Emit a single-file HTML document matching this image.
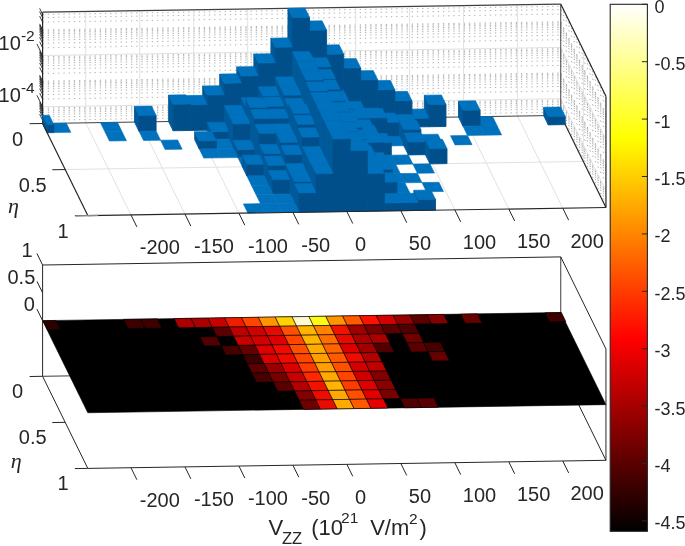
<!DOCTYPE html>
<html><head><meta charset="utf-8"><style>
html,body{margin:0;padding:0;background:#fff;}
body{width:685px;height:546px;position:relative;overflow:hidden;font-family:"Liberation Sans",sans-serif;}
</style></head><body>
<svg width="685" height="546" viewBox="0 0 685 546" style="position:absolute;left:0;top:0">
<rect width="685" height="546" fill="#ffffff"/>
<line x1="42.60" y1="120.21" x2="560.75" y2="112.11" stroke="#a8a8a8" stroke-width="0.9" stroke-dasharray="1.3 3.9"/>
<line x1="42.60" y1="117.01" x2="560.75" y2="108.91" stroke="#a8a8a8" stroke-width="0.9" stroke-dasharray="1.3 3.9"/>
<line x1="42.60" y1="114.52" x2="560.75" y2="106.42" stroke="#a8a8a8" stroke-width="0.9" stroke-dasharray="1.3 3.9"/>
<line x1="42.60" y1="112.49" x2="560.75" y2="104.39" stroke="#a8a8a8" stroke-width="0.9" stroke-dasharray="1.3 3.9"/>
<line x1="42.60" y1="110.78" x2="560.75" y2="102.68" stroke="#a8a8a8" stroke-width="0.9" stroke-dasharray="1.3 3.9"/>
<line x1="42.60" y1="109.29" x2="560.75" y2="101.19" stroke="#a8a8a8" stroke-width="0.9" stroke-dasharray="1.3 3.9"/>
<line x1="42.60" y1="107.98" x2="560.75" y2="99.88" stroke="#a8a8a8" stroke-width="0.9" stroke-dasharray="1.3 3.9"/>
<line x1="42.60" y1="99.08" x2="560.75" y2="90.98" stroke="#a8a8a8" stroke-width="0.9" stroke-dasharray="1.3 3.9"/>
<line x1="42.60" y1="94.56" x2="560.75" y2="86.46" stroke="#a8a8a8" stroke-width="0.9" stroke-dasharray="1.3 3.9"/>
<line x1="42.60" y1="91.36" x2="560.75" y2="83.26" stroke="#a8a8a8" stroke-width="0.9" stroke-dasharray="1.3 3.9"/>
<line x1="42.60" y1="88.87" x2="560.75" y2="80.77" stroke="#a8a8a8" stroke-width="0.9" stroke-dasharray="1.3 3.9"/>
<line x1="42.60" y1="86.84" x2="560.75" y2="78.74" stroke="#a8a8a8" stroke-width="0.9" stroke-dasharray="1.3 3.9"/>
<line x1="42.60" y1="85.13" x2="560.75" y2="77.03" stroke="#a8a8a8" stroke-width="0.9" stroke-dasharray="1.3 3.9"/>
<line x1="42.60" y1="83.64" x2="560.75" y2="75.54" stroke="#a8a8a8" stroke-width="0.9" stroke-dasharray="1.3 3.9"/>
<line x1="42.60" y1="82.33" x2="560.75" y2="74.23" stroke="#a8a8a8" stroke-width="0.9" stroke-dasharray="1.3 3.9"/>
<line x1="42.60" y1="81.15" x2="560.75" y2="73.05" stroke="#a8a8a8" stroke-width="0.9" stroke-dasharray="1.3 3.9"/>
<line x1="42.60" y1="73.43" x2="560.75" y2="65.33" stroke="#a8a8a8" stroke-width="0.9" stroke-dasharray="1.3 3.9"/>
<line x1="42.60" y1="68.91" x2="560.75" y2="60.81" stroke="#a8a8a8" stroke-width="0.9" stroke-dasharray="1.3 3.9"/>
<line x1="42.60" y1="65.71" x2="560.75" y2="57.61" stroke="#a8a8a8" stroke-width="0.9" stroke-dasharray="1.3 3.9"/>
<line x1="42.60" y1="63.22" x2="560.75" y2="55.12" stroke="#a8a8a8" stroke-width="0.9" stroke-dasharray="1.3 3.9"/>
<line x1="42.60" y1="61.19" x2="560.75" y2="53.09" stroke="#a8a8a8" stroke-width="0.9" stroke-dasharray="1.3 3.9"/>
<line x1="42.60" y1="59.48" x2="560.75" y2="51.38" stroke="#a8a8a8" stroke-width="0.9" stroke-dasharray="1.3 3.9"/>
<line x1="42.60" y1="57.99" x2="560.75" y2="49.89" stroke="#a8a8a8" stroke-width="0.9" stroke-dasharray="1.3 3.9"/>
<line x1="42.60" y1="56.68" x2="560.75" y2="48.58" stroke="#a8a8a8" stroke-width="0.9" stroke-dasharray="1.3 3.9"/>
<line x1="42.60" y1="47.78" x2="560.75" y2="39.68" stroke="#a8a8a8" stroke-width="0.9" stroke-dasharray="1.3 3.9"/>
<line x1="42.60" y1="43.26" x2="560.75" y2="35.16" stroke="#a8a8a8" stroke-width="0.9" stroke-dasharray="1.3 3.9"/>
<line x1="42.60" y1="40.06" x2="560.75" y2="31.96" stroke="#a8a8a8" stroke-width="0.9" stroke-dasharray="1.3 3.9"/>
<line x1="42.60" y1="37.57" x2="560.75" y2="29.47" stroke="#a8a8a8" stroke-width="0.9" stroke-dasharray="1.3 3.9"/>
<line x1="42.60" y1="35.54" x2="560.75" y2="27.44" stroke="#a8a8a8" stroke-width="0.9" stroke-dasharray="1.3 3.9"/>
<line x1="42.60" y1="33.83" x2="560.75" y2="25.73" stroke="#a8a8a8" stroke-width="0.9" stroke-dasharray="1.3 3.9"/>
<line x1="42.60" y1="32.34" x2="560.75" y2="24.24" stroke="#a8a8a8" stroke-width="0.9" stroke-dasharray="1.3 3.9"/>
<line x1="42.60" y1="31.03" x2="560.75" y2="22.93" stroke="#a8a8a8" stroke-width="0.9" stroke-dasharray="1.3 3.9"/>
<line x1="42.60" y1="29.85" x2="560.75" y2="21.75" stroke="#a8a8a8" stroke-width="0.9" stroke-dasharray="1.3 3.9"/>
<line x1="42.60" y1="22.13" x2="560.75" y2="14.03" stroke="#a8a8a8" stroke-width="0.9" stroke-dasharray="1.3 3.9"/>
<line x1="42.60" y1="17.61" x2="560.75" y2="9.51" stroke="#a8a8a8" stroke-width="0.9" stroke-dasharray="1.3 3.9"/>
<line x1="42.60" y1="14.41" x2="560.75" y2="6.31" stroke="#a8a8a8" stroke-width="0.9" stroke-dasharray="1.3 3.9"/>
<line x1="85.78" y1="122.83" x2="85.78" y2="11.53" stroke="#dedede" stroke-width="0.9"/>
<line x1="139.75" y1="121.98" x2="139.75" y2="10.68" stroke="#dedede" stroke-width="0.9"/>
<line x1="193.73" y1="121.14" x2="193.73" y2="9.84" stroke="#dedede" stroke-width="0.9"/>
<line x1="247.70" y1="120.29" x2="247.70" y2="8.99" stroke="#dedede" stroke-width="0.9"/>
<line x1="301.68" y1="119.45" x2="301.68" y2="8.15" stroke="#dedede" stroke-width="0.9"/>
<line x1="355.65" y1="118.61" x2="355.65" y2="7.31" stroke="#dedede" stroke-width="0.9"/>
<line x1="409.62" y1="117.76" x2="409.62" y2="6.46" stroke="#dedede" stroke-width="0.9"/>
<line x1="463.60" y1="116.92" x2="463.60" y2="5.62" stroke="#dedede" stroke-width="0.9"/>
<line x1="517.57" y1="116.08" x2="517.57" y2="4.78" stroke="#dedede" stroke-width="0.9"/>
<line x1="42.60" y1="106.80" x2="560.75" y2="98.70" stroke="#dedede" stroke-width="0.9"/>
<line x1="42.60" y1="55.50" x2="560.75" y2="47.40" stroke="#dedede" stroke-width="0.9"/>
<line x1="560.75" y1="112.11" x2="605.95" y2="204.21" stroke="#a8a8a8" stroke-width="1.0" stroke-dasharray="1.4 4.6"/>
<line x1="560.75" y1="108.91" x2="605.95" y2="201.01" stroke="#a8a8a8" stroke-width="1.0" stroke-dasharray="1.4 4.6"/>
<line x1="560.75" y1="106.42" x2="605.95" y2="198.52" stroke="#a8a8a8" stroke-width="1.0" stroke-dasharray="1.4 4.6"/>
<line x1="560.75" y1="104.39" x2="605.95" y2="196.49" stroke="#a8a8a8" stroke-width="1.0" stroke-dasharray="1.4 4.6"/>
<line x1="560.75" y1="102.68" x2="605.95" y2="194.78" stroke="#a8a8a8" stroke-width="1.0" stroke-dasharray="1.4 4.6"/>
<line x1="560.75" y1="101.19" x2="605.95" y2="193.29" stroke="#a8a8a8" stroke-width="1.0" stroke-dasharray="1.4 4.6"/>
<line x1="560.75" y1="99.88" x2="605.95" y2="191.98" stroke="#a8a8a8" stroke-width="1.0" stroke-dasharray="1.4 4.6"/>
<line x1="560.75" y1="90.98" x2="605.95" y2="183.08" stroke="#a8a8a8" stroke-width="1.0" stroke-dasharray="1.4 4.6"/>
<line x1="560.75" y1="86.46" x2="605.95" y2="178.56" stroke="#a8a8a8" stroke-width="1.0" stroke-dasharray="1.4 4.6"/>
<line x1="560.75" y1="83.26" x2="605.95" y2="175.36" stroke="#a8a8a8" stroke-width="1.0" stroke-dasharray="1.4 4.6"/>
<line x1="560.75" y1="80.77" x2="605.95" y2="172.87" stroke="#a8a8a8" stroke-width="1.0" stroke-dasharray="1.4 4.6"/>
<line x1="560.75" y1="78.74" x2="605.95" y2="170.84" stroke="#a8a8a8" stroke-width="1.0" stroke-dasharray="1.4 4.6"/>
<line x1="560.75" y1="77.03" x2="605.95" y2="169.13" stroke="#a8a8a8" stroke-width="1.0" stroke-dasharray="1.4 4.6"/>
<line x1="560.75" y1="75.54" x2="605.95" y2="167.64" stroke="#a8a8a8" stroke-width="1.0" stroke-dasharray="1.4 4.6"/>
<line x1="560.75" y1="74.23" x2="605.95" y2="166.33" stroke="#a8a8a8" stroke-width="1.0" stroke-dasharray="1.4 4.6"/>
<line x1="560.75" y1="73.05" x2="605.95" y2="165.15" stroke="#a8a8a8" stroke-width="1.0" stroke-dasharray="1.4 4.6"/>
<line x1="560.75" y1="65.33" x2="605.95" y2="157.43" stroke="#a8a8a8" stroke-width="1.0" stroke-dasharray="1.4 4.6"/>
<line x1="560.75" y1="60.81" x2="605.95" y2="152.91" stroke="#a8a8a8" stroke-width="1.0" stroke-dasharray="1.4 4.6"/>
<line x1="560.75" y1="57.61" x2="605.95" y2="149.71" stroke="#a8a8a8" stroke-width="1.0" stroke-dasharray="1.4 4.6"/>
<line x1="560.75" y1="55.12" x2="605.95" y2="147.22" stroke="#a8a8a8" stroke-width="1.0" stroke-dasharray="1.4 4.6"/>
<line x1="560.75" y1="53.09" x2="605.95" y2="145.19" stroke="#a8a8a8" stroke-width="1.0" stroke-dasharray="1.4 4.6"/>
<line x1="560.75" y1="51.38" x2="605.95" y2="143.48" stroke="#a8a8a8" stroke-width="1.0" stroke-dasharray="1.4 4.6"/>
<line x1="560.75" y1="49.89" x2="605.95" y2="141.99" stroke="#a8a8a8" stroke-width="1.0" stroke-dasharray="1.4 4.6"/>
<line x1="560.75" y1="48.58" x2="605.95" y2="140.68" stroke="#a8a8a8" stroke-width="1.0" stroke-dasharray="1.4 4.6"/>
<line x1="560.75" y1="39.68" x2="605.95" y2="131.78" stroke="#a8a8a8" stroke-width="1.0" stroke-dasharray="1.4 4.6"/>
<line x1="560.75" y1="35.16" x2="605.95" y2="127.26" stroke="#a8a8a8" stroke-width="1.0" stroke-dasharray="1.4 4.6"/>
<line x1="560.75" y1="31.96" x2="605.95" y2="124.06" stroke="#a8a8a8" stroke-width="1.0" stroke-dasharray="1.4 4.6"/>
<line x1="560.75" y1="29.47" x2="605.95" y2="121.57" stroke="#a8a8a8" stroke-width="1.0" stroke-dasharray="1.4 4.6"/>
<line x1="560.75" y1="27.44" x2="605.95" y2="119.54" stroke="#a8a8a8" stroke-width="1.0" stroke-dasharray="1.4 4.6"/>
<line x1="560.75" y1="25.73" x2="605.95" y2="117.83" stroke="#a8a8a8" stroke-width="1.0" stroke-dasharray="1.4 4.6"/>
<line x1="560.75" y1="24.24" x2="605.95" y2="116.34" stroke="#a8a8a8" stroke-width="1.0" stroke-dasharray="1.4 4.6"/>
<line x1="560.75" y1="22.93" x2="605.95" y2="115.03" stroke="#a8a8a8" stroke-width="1.0" stroke-dasharray="1.4 4.6"/>
<line x1="560.75" y1="21.75" x2="605.95" y2="113.85" stroke="#a8a8a8" stroke-width="1.0" stroke-dasharray="1.4 4.6"/>
<line x1="560.75" y1="14.03" x2="605.95" y2="106.13" stroke="#a8a8a8" stroke-width="1.0" stroke-dasharray="1.4 4.6"/>
<line x1="560.75" y1="9.51" x2="605.95" y2="101.61" stroke="#a8a8a8" stroke-width="1.0" stroke-dasharray="1.4 4.6"/>
<line x1="560.75" y1="6.31" x2="605.95" y2="98.41" stroke="#a8a8a8" stroke-width="1.0" stroke-dasharray="1.4 4.6"/>
<line x1="583.35" y1="161.45" x2="583.35" y2="50.15" stroke="#dedede" stroke-width="0.9"/>
<line x1="560.75" y1="98.70" x2="605.95" y2="190.80" stroke="#dedede" stroke-width="0.9"/>
<line x1="560.75" y1="47.40" x2="605.95" y2="139.50" stroke="#dedede" stroke-width="0.9"/>
<line x1="85.78" y1="122.83" x2="130.98" y2="214.93" stroke="#dedede" stroke-width="0.9"/>
<line x1="139.75" y1="121.98" x2="184.95" y2="214.08" stroke="#dedede" stroke-width="0.9"/>
<line x1="193.73" y1="121.14" x2="238.93" y2="213.24" stroke="#dedede" stroke-width="0.9"/>
<line x1="247.70" y1="120.29" x2="292.90" y2="212.39" stroke="#dedede" stroke-width="0.9"/>
<line x1="301.68" y1="119.45" x2="346.88" y2="211.55" stroke="#dedede" stroke-width="0.9"/>
<line x1="355.65" y1="118.61" x2="400.85" y2="210.71" stroke="#dedede" stroke-width="0.9"/>
<line x1="409.62" y1="117.76" x2="454.82" y2="209.86" stroke="#dedede" stroke-width="0.9"/>
<line x1="463.60" y1="116.92" x2="508.80" y2="209.02" stroke="#dedede" stroke-width="0.9"/>
<line x1="517.57" y1="116.08" x2="562.77" y2="208.18" stroke="#dedede" stroke-width="0.9"/>
<line x1="65.20" y1="169.55" x2="583.35" y2="161.45" stroke="#dedede" stroke-width="0.9"/>
<line x1="42.60" y1="12.20" x2="560.75" y2="4.10" stroke="#404040" stroke-width="1.2"/>
<line x1="560.75" y1="4.10" x2="605.95" y2="96.20" stroke="#262626" stroke-width="1.2"/>
<line x1="560.75" y1="115.40" x2="560.75" y2="4.10" stroke="#404040" stroke-width="1.0"/>
<line x1="42.60" y1="123.50" x2="42.60" y2="12.20" stroke="#262626" stroke-width="1.2"/>
<line x1="42.60" y1="123.50" x2="560.75" y2="115.40" stroke="#404040" stroke-width="1.0"/>
<line x1="560.75" y1="115.40" x2="605.95" y2="207.50" stroke="#262626" stroke-width="1.2"/>
<line x1="42.60" y1="120.21" x2="39.66" y2="114.23" stroke="#262626" stroke-width="0.9"/>
<line x1="42.60" y1="117.01" x2="39.66" y2="111.02" stroke="#262626" stroke-width="0.9"/>
<line x1="42.60" y1="114.52" x2="39.66" y2="108.54" stroke="#262626" stroke-width="0.9"/>
<line x1="42.60" y1="112.49" x2="39.66" y2="106.51" stroke="#262626" stroke-width="0.9"/>
<line x1="42.60" y1="110.78" x2="39.66" y2="104.79" stroke="#262626" stroke-width="0.9"/>
<line x1="42.60" y1="109.29" x2="39.66" y2="103.30" stroke="#262626" stroke-width="0.9"/>
<line x1="42.60" y1="107.98" x2="39.66" y2="101.99" stroke="#262626" stroke-width="0.9"/>
<line x1="42.60" y1="106.80" x2="36.95" y2="95.29" stroke="#262626" stroke-width="0.9"/>
<line x1="42.60" y1="99.08" x2="39.66" y2="93.09" stroke="#262626" stroke-width="0.9"/>
<line x1="42.60" y1="94.56" x2="39.66" y2="88.58" stroke="#262626" stroke-width="0.9"/>
<line x1="42.60" y1="91.36" x2="39.66" y2="85.37" stroke="#262626" stroke-width="0.9"/>
<line x1="42.60" y1="88.87" x2="39.66" y2="82.89" stroke="#262626" stroke-width="0.9"/>
<line x1="42.60" y1="86.84" x2="39.66" y2="80.86" stroke="#262626" stroke-width="0.9"/>
<line x1="42.60" y1="85.13" x2="39.66" y2="79.14" stroke="#262626" stroke-width="0.9"/>
<line x1="42.60" y1="83.64" x2="39.66" y2="77.65" stroke="#262626" stroke-width="0.9"/>
<line x1="42.60" y1="82.33" x2="39.66" y2="76.34" stroke="#262626" stroke-width="0.9"/>
<line x1="42.60" y1="81.15" x2="39.66" y2="75.17" stroke="#262626" stroke-width="0.9"/>
<line x1="42.60" y1="73.43" x2="39.66" y2="67.44" stroke="#262626" stroke-width="0.9"/>
<line x1="42.60" y1="68.91" x2="39.66" y2="62.93" stroke="#262626" stroke-width="0.9"/>
<line x1="42.60" y1="65.71" x2="39.66" y2="59.72" stroke="#262626" stroke-width="0.9"/>
<line x1="42.60" y1="63.22" x2="39.66" y2="57.24" stroke="#262626" stroke-width="0.9"/>
<line x1="42.60" y1="61.19" x2="39.66" y2="55.21" stroke="#262626" stroke-width="0.9"/>
<line x1="42.60" y1="59.48" x2="39.66" y2="53.49" stroke="#262626" stroke-width="0.9"/>
<line x1="42.60" y1="57.99" x2="39.66" y2="52.00" stroke="#262626" stroke-width="0.9"/>
<line x1="42.60" y1="56.68" x2="39.66" y2="50.69" stroke="#262626" stroke-width="0.9"/>
<line x1="42.60" y1="55.50" x2="36.95" y2="43.99" stroke="#262626" stroke-width="0.9"/>
<line x1="42.60" y1="47.78" x2="39.66" y2="41.79" stroke="#262626" stroke-width="0.9"/>
<line x1="42.60" y1="43.26" x2="39.66" y2="37.28" stroke="#262626" stroke-width="0.9"/>
<line x1="42.60" y1="40.06" x2="39.66" y2="34.07" stroke="#262626" stroke-width="0.9"/>
<line x1="42.60" y1="37.57" x2="39.66" y2="31.59" stroke="#262626" stroke-width="0.9"/>
<line x1="42.60" y1="35.54" x2="39.66" y2="29.56" stroke="#262626" stroke-width="0.9"/>
<line x1="42.60" y1="33.83" x2="39.66" y2="27.84" stroke="#262626" stroke-width="0.9"/>
<line x1="42.60" y1="32.34" x2="39.66" y2="26.35" stroke="#262626" stroke-width="0.9"/>
<line x1="42.60" y1="31.03" x2="39.66" y2="25.04" stroke="#262626" stroke-width="0.9"/>
<line x1="42.60" y1="29.85" x2="39.66" y2="23.87" stroke="#262626" stroke-width="0.9"/>
<line x1="42.60" y1="22.13" x2="39.66" y2="16.14" stroke="#262626" stroke-width="0.9"/>
<line x1="42.60" y1="17.61" x2="39.66" y2="11.63" stroke="#262626" stroke-width="0.9"/>
<line x1="42.60" y1="14.41" x2="39.66" y2="8.42" stroke="#262626" stroke-width="0.9"/>
<polygon points="543.75,115.67 548.27,124.88 548.27,116.48 543.75,107.27" fill="#005a9a" stroke="#005a9a" stroke-width="0.9" stroke-linejoin="round"/>
<polygon points="548.27,124.88 565.22,124.61 565.22,116.21 548.27,116.48" fill="#004f8b" stroke="#004f8b" stroke-width="0.9" stroke-linejoin="round"/>
<polygon points="543.75,107.27 560.70,107.00 565.22,116.21 548.27,116.48" fill="#0071bc" stroke="#0071bc" stroke-width="0.6" stroke-linejoin="round"/>
<polygon points="475.54,116.73 492.59,116.47 497.11,125.68 480.06,125.94" fill="#0071bc" stroke="#0071bc" stroke-width="0.6" stroke-linejoin="round"/>
<polygon points="458.49,117.00 463.01,126.21 463.01,110.21 458.49,101.00" fill="#005a9a" stroke="#005a9a" stroke-width="0.9" stroke-linejoin="round"/>
<polygon points="463.01,126.21 480.06,125.94 480.06,109.94 463.01,110.21" fill="#004f8b" stroke="#004f8b" stroke-width="0.9" stroke-linejoin="round"/>
<polygon points="458.49,101.00 475.54,100.73 480.06,109.94 463.01,110.21" fill="#0071bc" stroke="#0071bc" stroke-width="0.6" stroke-linejoin="round"/>
<polygon points="424.39,117.53 428.91,126.74 428.91,104.44 424.39,95.23" fill="#005a9a" stroke="#005a9a" stroke-width="0.9" stroke-linejoin="round"/>
<polygon points="428.91,126.74 445.96,126.48 445.96,104.18 428.91,104.44" fill="#004f8b" stroke="#004f8b" stroke-width="0.9" stroke-linejoin="round"/>
<polygon points="424.39,95.23 441.44,94.97 445.96,104.18 428.91,104.44" fill="#0071bc" stroke="#0071bc" stroke-width="0.6" stroke-linejoin="round"/>
<polygon points="411.85,127.01 428.91,126.74 428.91,118.14 411.85,118.41" fill="#004f8b" stroke="#004f8b" stroke-width="0.9" stroke-linejoin="round"/>
<polygon points="407.33,109.20 424.39,108.93 428.91,118.14 411.85,118.41" fill="#0071bc" stroke="#0071bc" stroke-width="0.6" stroke-linejoin="round"/>
<polygon points="394.80,127.27 411.85,127.01 411.85,100.51 394.80,100.77" fill="#004f8b" stroke="#004f8b" stroke-width="0.9" stroke-linejoin="round"/>
<polygon points="390.28,91.56 407.33,91.30 411.85,100.51 394.80,100.77" fill="#0071bc" stroke="#0071bc" stroke-width="0.6" stroke-linejoin="round"/>
<polygon points="377.75,127.54 394.80,127.27 394.80,89.57 377.75,89.84" fill="#004f8b" stroke="#004f8b" stroke-width="0.9" stroke-linejoin="round"/>
<polygon points="373.23,80.63 390.28,80.36 394.80,89.57 377.75,89.84" fill="#0071bc" stroke="#0071bc" stroke-width="0.6" stroke-linejoin="round"/>
<polygon points="360.70,127.81 377.75,127.54 377.75,79.74 360.70,80.01" fill="#004f8b" stroke="#004f8b" stroke-width="0.9" stroke-linejoin="round"/>
<polygon points="356.18,70.80 373.23,70.53 377.75,79.74 360.70,80.01" fill="#0071bc" stroke="#0071bc" stroke-width="0.6" stroke-linejoin="round"/>
<polygon points="343.65,128.07 360.70,127.81 360.70,67.81 343.65,68.07" fill="#004f8b" stroke="#004f8b" stroke-width="0.9" stroke-linejoin="round"/>
<polygon points="339.13,58.86 356.18,58.60 360.70,67.81 343.65,68.07" fill="#0071bc" stroke="#0071bc" stroke-width="0.6" stroke-linejoin="round"/>
<polygon points="326.60,128.34 343.65,128.07 343.65,53.97 326.60,54.24" fill="#004f8b" stroke="#004f8b" stroke-width="0.9" stroke-linejoin="round"/>
<polygon points="322.08,45.03 339.13,44.76 343.65,53.97 326.60,54.24" fill="#0071bc" stroke="#0071bc" stroke-width="0.6" stroke-linejoin="round"/>
<polygon points="309.54,128.61 326.60,128.34 326.60,30.04 309.54,30.31" fill="#004f8b" stroke="#004f8b" stroke-width="0.9" stroke-linejoin="round"/>
<polygon points="305.02,21.10 322.08,20.83 326.60,30.04 309.54,30.31" fill="#0071bc" stroke="#0071bc" stroke-width="0.6" stroke-linejoin="round"/>
<polygon points="287.97,119.66 292.49,128.87 292.49,17.57 287.97,8.36" fill="#005a9a" stroke="#005a9a" stroke-width="0.9" stroke-linejoin="round"/>
<polygon points="292.49,128.87 309.54,128.61 309.54,17.31 292.49,17.57" fill="#004f8b" stroke="#004f8b" stroke-width="0.9" stroke-linejoin="round"/>
<polygon points="287.97,8.36 305.02,8.10 309.54,17.31 292.49,17.57" fill="#0071bc" stroke="#0071bc" stroke-width="0.6" stroke-linejoin="round"/>
<polygon points="270.92,119.93 275.44,129.14 275.44,47.34 270.92,38.13" fill="#005a9a" stroke="#005a9a" stroke-width="0.9" stroke-linejoin="round"/>
<polygon points="275.44,129.14 292.49,128.87 292.49,47.07 275.44,47.34" fill="#004f8b" stroke="#004f8b" stroke-width="0.9" stroke-linejoin="round"/>
<polygon points="270.92,38.13 287.97,37.86 292.49,47.07 275.44,47.34" fill="#0071bc" stroke="#0071bc" stroke-width="0.6" stroke-linejoin="round"/>
<polygon points="253.87,120.20 258.39,129.41 258.39,63.11 253.87,53.90" fill="#005a9a" stroke="#005a9a" stroke-width="0.9" stroke-linejoin="round"/>
<polygon points="258.39,129.41 275.44,129.14 275.44,62.84 258.39,63.11" fill="#004f8b" stroke="#004f8b" stroke-width="0.9" stroke-linejoin="round"/>
<polygon points="253.87,53.90 270.92,53.63 275.44,62.84 258.39,63.11" fill="#0071bc" stroke="#0071bc" stroke-width="0.6" stroke-linejoin="round"/>
<polygon points="236.82,120.46 241.34,129.67 241.34,76.07 236.82,66.86" fill="#005a9a" stroke="#005a9a" stroke-width="0.9" stroke-linejoin="round"/>
<polygon points="241.34,129.67 258.39,129.41 258.39,75.81 241.34,76.07" fill="#004f8b" stroke="#004f8b" stroke-width="0.9" stroke-linejoin="round"/>
<polygon points="236.82,66.86 253.87,66.60 258.39,75.81 241.34,76.07" fill="#0071bc" stroke="#0071bc" stroke-width="0.6" stroke-linejoin="round"/>
<polygon points="219.76,120.73 224.28,129.94 224.28,83.24 219.76,74.03" fill="#005a9a" stroke="#005a9a" stroke-width="0.9" stroke-linejoin="round"/>
<polygon points="224.28,129.94 241.34,129.67 241.34,82.97 224.28,83.24" fill="#004f8b" stroke="#004f8b" stroke-width="0.9" stroke-linejoin="round"/>
<polygon points="219.76,74.03 236.82,73.76 241.34,82.97 224.28,83.24" fill="#0071bc" stroke="#0071bc" stroke-width="0.6" stroke-linejoin="round"/>
<polygon points="202.71,121.00 207.23,130.21 207.23,95.11 202.71,85.90" fill="#005a9a" stroke="#005a9a" stroke-width="0.9" stroke-linejoin="round"/>
<polygon points="207.23,130.21 224.28,129.94 224.28,94.84 207.23,95.11" fill="#004f8b" stroke="#004f8b" stroke-width="0.9" stroke-linejoin="round"/>
<polygon points="202.71,85.90 219.76,85.63 224.28,94.84 207.23,95.11" fill="#0071bc" stroke="#0071bc" stroke-width="0.6" stroke-linejoin="round"/>
<polygon points="190.18,130.47 207.23,130.21 207.23,104.51 190.18,104.77" fill="#004f8b" stroke="#004f8b" stroke-width="0.9" stroke-linejoin="round"/>
<polygon points="185.66,95.56 202.71,95.30 207.23,104.51 190.18,104.77" fill="#0071bc" stroke="#0071bc" stroke-width="0.6" stroke-linejoin="round"/>
<polygon points="168.61,121.53 173.13,130.74 173.13,104.24 168.61,95.03" fill="#005a9a" stroke="#005a9a" stroke-width="0.9" stroke-linejoin="round"/>
<polygon points="173.13,130.74 190.18,130.47 190.18,103.97 173.13,104.24" fill="#004f8b" stroke="#004f8b" stroke-width="0.9" stroke-linejoin="round"/>
<polygon points="168.61,95.03 185.66,94.76 190.18,103.97 173.13,104.24" fill="#0071bc" stroke="#0071bc" stroke-width="0.6" stroke-linejoin="round"/>
<polygon points="134.51,122.06 139.03,131.27 139.03,115.57 134.51,106.36" fill="#005a9a" stroke="#005a9a" stroke-width="0.9" stroke-linejoin="round"/>
<polygon points="139.03,131.27 156.08,131.01 156.08,115.31 139.03,115.57" fill="#004f8b" stroke="#004f8b" stroke-width="0.9" stroke-linejoin="round"/>
<polygon points="134.51,106.36 151.56,106.10 156.08,115.31 139.03,115.57" fill="#0071bc" stroke="#0071bc" stroke-width="0.6" stroke-linejoin="round"/>
<polygon points="100.40,122.60 117.45,122.33 121.97,131.54 104.92,131.81" fill="#0071bc" stroke="#0071bc" stroke-width="0.6" stroke-linejoin="round"/>
<polygon points="49.25,123.40 66.30,123.13 70.82,132.34 53.77,132.61" fill="#0071bc" stroke="#0071bc" stroke-width="0.6" stroke-linejoin="round"/>
<polygon points="42.60,123.50 47.12,132.71 47.12,124.51 42.60,115.30" fill="#005a9a" stroke="#005a9a" stroke-width="0.9" stroke-linejoin="round"/>
<polygon points="47.12,132.71 53.77,132.61 53.77,124.41 47.12,124.51" fill="#004f8b" stroke="#004f8b" stroke-width="0.9" stroke-linejoin="round"/>
<polygon points="42.60,115.30 49.25,115.20 53.77,124.41 47.12,124.51" fill="#0071bc" stroke="#0071bc" stroke-width="0.6" stroke-linejoin="round"/>
<polygon points="480.06,125.94 497.11,125.68 501.63,134.89 484.58,135.15" fill="#0071bc" stroke="#0071bc" stroke-width="0.6" stroke-linejoin="round"/>
<polygon points="463.01,126.21 480.06,125.94 484.58,135.15 467.53,135.42" fill="#0071bc" stroke="#0071bc" stroke-width="0.6" stroke-linejoin="round"/>
<polygon points="399.32,136.48 416.37,136.22 416.37,123.64 399.32,123.91" fill="#004f8b" stroke="#004f8b" stroke-width="0.9" stroke-linejoin="round"/>
<polygon points="394.80,114.70 411.85,114.43 416.37,123.64 399.32,123.91" fill="#0071bc" stroke="#0071bc" stroke-width="0.6" stroke-linejoin="round"/>
<polygon points="382.27,136.75 399.32,136.48 399.32,122.17 382.27,122.44" fill="#004f8b" stroke="#004f8b" stroke-width="0.9" stroke-linejoin="round"/>
<polygon points="377.75,113.23 394.80,112.96 399.32,122.17 382.27,122.44" fill="#0071bc" stroke="#0071bc" stroke-width="0.6" stroke-linejoin="round"/>
<polygon points="365.22,137.02 382.27,136.75 382.27,117.25 365.22,117.51" fill="#004f8b" stroke="#004f8b" stroke-width="0.9" stroke-linejoin="round"/>
<polygon points="360.70,108.30 377.75,108.04 382.27,117.25 365.22,117.51" fill="#0071bc" stroke="#0071bc" stroke-width="0.6" stroke-linejoin="round"/>
<polygon points="348.17,137.28 365.22,137.02 365.22,110.59 348.17,110.86" fill="#004f8b" stroke="#004f8b" stroke-width="0.9" stroke-linejoin="round"/>
<polygon points="343.65,101.65 360.70,101.38 365.22,110.59 348.17,110.86" fill="#0071bc" stroke="#0071bc" stroke-width="0.6" stroke-linejoin="round"/>
<polygon points="331.12,137.55 348.17,137.28 348.17,99.61 331.12,99.87" fill="#004f8b" stroke="#004f8b" stroke-width="0.9" stroke-linejoin="round"/>
<polygon points="326.60,90.66 343.65,90.40 348.17,99.61 331.12,99.87" fill="#0071bc" stroke="#0071bc" stroke-width="0.6" stroke-linejoin="round"/>
<polygon points="314.06,137.82 331.12,137.55 331.12,66.85 314.06,67.12" fill="#004f8b" stroke="#004f8b" stroke-width="0.9" stroke-linejoin="round"/>
<polygon points="309.54,57.91 326.60,57.64 331.12,66.85 314.06,67.12" fill="#0071bc" stroke="#0071bc" stroke-width="0.6" stroke-linejoin="round"/>
<polygon points="292.49,128.87 297.01,138.08 297.01,61.08 292.49,51.87" fill="#005a9a" stroke="#005a9a" stroke-width="0.9" stroke-linejoin="round"/>
<polygon points="297.01,138.08 314.06,137.82 314.06,60.82 297.01,61.08" fill="#004f8b" stroke="#004f8b" stroke-width="0.9" stroke-linejoin="round"/>
<polygon points="292.49,51.87 309.54,51.61 314.06,60.82 297.01,61.08" fill="#0071bc" stroke="#0071bc" stroke-width="0.6" stroke-linejoin="round"/>
<polygon points="275.44,129.14 279.96,138.35 279.96,86.15 275.44,76.94" fill="#005a9a" stroke="#005a9a" stroke-width="0.9" stroke-linejoin="round"/>
<polygon points="279.96,138.35 297.01,138.08 297.01,85.88 279.96,86.15" fill="#004f8b" stroke="#004f8b" stroke-width="0.9" stroke-linejoin="round"/>
<polygon points="275.44,76.94 292.49,76.67 297.01,85.88 279.96,86.15" fill="#0071bc" stroke="#0071bc" stroke-width="0.6" stroke-linejoin="round"/>
<polygon points="258.39,129.41 262.91,138.62 262.91,96.02 258.39,86.81" fill="#005a9a" stroke="#005a9a" stroke-width="0.9" stroke-linejoin="round"/>
<polygon points="262.91,138.62 279.96,138.35 279.96,95.75 262.91,96.02" fill="#004f8b" stroke="#004f8b" stroke-width="0.9" stroke-linejoin="round"/>
<polygon points="258.39,86.81 275.44,86.54 279.96,95.75 262.91,96.02" fill="#0071bc" stroke="#0071bc" stroke-width="0.6" stroke-linejoin="round"/>
<polygon points="241.34,129.67 245.86,138.88 245.86,106.98 241.34,97.77" fill="#005a9a" stroke="#005a9a" stroke-width="0.9" stroke-linejoin="round"/>
<polygon points="245.86,138.88 262.91,138.62 262.91,106.72 245.86,106.98" fill="#004f8b" stroke="#004f8b" stroke-width="0.9" stroke-linejoin="round"/>
<polygon points="241.34,97.77 258.39,97.51 262.91,106.72 245.86,106.98" fill="#0071bc" stroke="#0071bc" stroke-width="0.6" stroke-linejoin="round"/>
<polygon points="224.28,129.94 228.80,139.15 228.80,114.85 224.28,105.64" fill="#005a9a" stroke="#005a9a" stroke-width="0.9" stroke-linejoin="round"/>
<polygon points="228.80,139.15 245.86,138.88 245.86,114.58 228.80,114.85" fill="#004f8b" stroke="#004f8b" stroke-width="0.9" stroke-linejoin="round"/>
<polygon points="224.28,105.64 241.34,105.37 245.86,114.58 228.80,114.85" fill="#0071bc" stroke="#0071bc" stroke-width="0.6" stroke-linejoin="round"/>
<polygon points="207.23,130.21 211.75,139.42 211.75,131.72 207.23,122.51" fill="#005a9a" stroke="#005a9a" stroke-width="0.9" stroke-linejoin="round"/>
<polygon points="211.75,139.42 228.80,139.15 228.80,131.45 211.75,131.72" fill="#004f8b" stroke="#004f8b" stroke-width="0.9" stroke-linejoin="round"/>
<polygon points="207.23,122.51 224.28,122.24 228.80,131.45 211.75,131.72" fill="#0071bc" stroke="#0071bc" stroke-width="0.6" stroke-linejoin="round"/>
<polygon points="139.03,131.27 156.08,131.01 160.60,140.22 143.55,140.48" fill="#0071bc" stroke="#0071bc" stroke-width="0.6" stroke-linejoin="round"/>
<polygon points="104.92,131.81 121.97,131.54 126.49,140.75 109.44,141.02" fill="#0071bc" stroke="#0071bc" stroke-width="0.6" stroke-linejoin="round"/>
<polygon points="450.48,135.69 467.53,135.42 472.05,144.63 455.00,144.90" fill="#0071bc" stroke="#0071bc" stroke-width="0.6" stroke-linejoin="round"/>
<polygon points="399.32,136.48 403.84,145.69 403.84,129.69 399.32,120.48" fill="#005a9a" stroke="#005a9a" stroke-width="0.9" stroke-linejoin="round"/>
<polygon points="403.84,145.69 420.89,145.43 420.89,129.43 403.84,129.69" fill="#004f8b" stroke="#004f8b" stroke-width="0.9" stroke-linejoin="round"/>
<polygon points="399.32,120.48 416.37,120.22 420.89,129.43 403.84,129.69" fill="#0071bc" stroke="#0071bc" stroke-width="0.6" stroke-linejoin="round"/>
<polygon points="382.27,136.75 399.32,136.48 403.84,145.69 386.79,145.96" fill="#0071bc" stroke="#0071bc" stroke-width="0.6" stroke-linejoin="round"/>
<polygon points="369.74,146.23 386.79,145.96 386.79,117.80 369.74,118.07" fill="#004f8b" stroke="#004f8b" stroke-width="0.9" stroke-linejoin="round"/>
<polygon points="365.22,108.86 382.27,108.59 386.79,117.80 369.74,118.07" fill="#0071bc" stroke="#0071bc" stroke-width="0.6" stroke-linejoin="round"/>
<polygon points="352.69,146.49 369.74,146.23 369.74,118.07 352.69,118.34" fill="#004f8b" stroke="#004f8b" stroke-width="0.9" stroke-linejoin="round"/>
<polygon points="348.17,109.13 365.22,108.86 369.74,118.07 352.69,118.34" fill="#0071bc" stroke="#0071bc" stroke-width="0.6" stroke-linejoin="round"/>
<polygon points="335.64,146.76 352.69,146.49 352.69,108.82 335.64,109.08" fill="#004f8b" stroke="#004f8b" stroke-width="0.9" stroke-linejoin="round"/>
<polygon points="331.12,99.87 348.17,99.61 352.69,108.82 335.64,109.08" fill="#0071bc" stroke="#0071bc" stroke-width="0.6" stroke-linejoin="round"/>
<polygon points="318.58,147.03 335.64,146.76 335.64,78.76 318.58,79.03" fill="#004f8b" stroke="#004f8b" stroke-width="0.9" stroke-linejoin="round"/>
<polygon points="314.06,69.82 331.12,69.55 335.64,78.76 318.58,79.03" fill="#0071bc" stroke="#0071bc" stroke-width="0.6" stroke-linejoin="round"/>
<polygon points="297.01,138.08 301.53,147.29 301.53,70.69 297.01,61.48" fill="#005a9a" stroke="#005a9a" stroke-width="0.9" stroke-linejoin="round"/>
<polygon points="301.53,147.29 318.58,147.03 318.58,70.43 301.53,70.69" fill="#004f8b" stroke="#004f8b" stroke-width="0.9" stroke-linejoin="round"/>
<polygon points="297.01,61.48 314.06,61.22 318.58,70.43 301.53,70.69" fill="#0071bc" stroke="#0071bc" stroke-width="0.6" stroke-linejoin="round"/>
<polygon points="279.96,138.35 284.48,147.56 284.48,95.36 279.96,86.15" fill="#005a9a" stroke="#005a9a" stroke-width="0.9" stroke-linejoin="round"/>
<polygon points="284.48,147.56 301.53,147.29 301.53,95.09 284.48,95.36" fill="#004f8b" stroke="#004f8b" stroke-width="0.9" stroke-linejoin="round"/>
<polygon points="279.96,86.15 297.01,85.88 301.53,95.09 284.48,95.36" fill="#0071bc" stroke="#0071bc" stroke-width="0.6" stroke-linejoin="round"/>
<polygon points="262.91,138.62 267.43,147.83 267.43,106.53 262.91,97.32" fill="#005a9a" stroke="#005a9a" stroke-width="0.9" stroke-linejoin="round"/>
<polygon points="267.43,147.83 284.48,147.56 284.48,106.26 267.43,106.53" fill="#004f8b" stroke="#004f8b" stroke-width="0.9" stroke-linejoin="round"/>
<polygon points="262.91,97.32 279.96,97.05 284.48,106.26 267.43,106.53" fill="#0071bc" stroke="#0071bc" stroke-width="0.6" stroke-linejoin="round"/>
<polygon points="245.86,138.88 250.38,148.09 250.38,107.69 245.86,98.48" fill="#005a9a" stroke="#005a9a" stroke-width="0.9" stroke-linejoin="round"/>
<polygon points="250.38,148.09 267.43,147.83 267.43,107.43 250.38,107.69" fill="#004f8b" stroke="#004f8b" stroke-width="0.9" stroke-linejoin="round"/>
<polygon points="245.86,98.48 262.91,98.22 267.43,107.43 250.38,107.69" fill="#0071bc" stroke="#0071bc" stroke-width="0.6" stroke-linejoin="round"/>
<polygon points="228.80,139.15 233.32,148.36 233.32,124.06 228.80,114.85" fill="#005a9a" stroke="#005a9a" stroke-width="0.9" stroke-linejoin="round"/>
<polygon points="233.32,148.36 250.38,148.09 250.38,123.79 233.32,124.06" fill="#004f8b" stroke="#004f8b" stroke-width="0.9" stroke-linejoin="round"/>
<polygon points="228.80,114.85 245.86,114.58 250.38,123.79 233.32,124.06" fill="#0071bc" stroke="#0071bc" stroke-width="0.6" stroke-linejoin="round"/>
<polygon points="211.75,139.42 228.80,139.15 233.32,148.36 216.27,148.63" fill="#0071bc" stroke="#0071bc" stroke-width="0.6" stroke-linejoin="round"/>
<polygon points="194.70,139.68 199.22,148.89 199.22,140.89 194.70,131.68" fill="#005a9a" stroke="#005a9a" stroke-width="0.9" stroke-linejoin="round"/>
<polygon points="199.22,148.89 216.27,148.63 216.27,140.63 199.22,140.89" fill="#004f8b" stroke="#004f8b" stroke-width="0.9" stroke-linejoin="round"/>
<polygon points="194.70,131.68 211.75,131.42 216.27,140.63 199.22,140.89" fill="#0071bc" stroke="#0071bc" stroke-width="0.6" stroke-linejoin="round"/>
<polygon points="160.60,140.22 177.65,139.95 182.17,149.16 165.12,149.43" fill="#0071bc" stroke="#0071bc" stroke-width="0.6" stroke-linejoin="round"/>
<polygon points="425.41,154.64 442.47,154.37 442.47,143.37 425.41,143.64" fill="#004f8b" stroke="#004f8b" stroke-width="0.9" stroke-linejoin="round"/>
<polygon points="420.89,134.43 437.95,134.16 442.47,143.37 425.41,143.64" fill="#0071bc" stroke="#0071bc" stroke-width="0.6" stroke-linejoin="round"/>
<polygon points="403.84,145.69 408.36,154.90 408.36,142.10 403.84,132.89" fill="#005a9a" stroke="#005a9a" stroke-width="0.9" stroke-linejoin="round"/>
<polygon points="408.36,154.90 425.41,154.64 425.41,141.84 408.36,142.10" fill="#004f8b" stroke="#004f8b" stroke-width="0.9" stroke-linejoin="round"/>
<polygon points="403.84,132.89 420.89,132.63 425.41,141.84 408.36,142.10" fill="#0071bc" stroke="#0071bc" stroke-width="0.6" stroke-linejoin="round"/>
<polygon points="374.26,155.44 391.31,155.17 391.31,142.59 374.26,142.86" fill="#004f8b" stroke="#004f8b" stroke-width="0.9" stroke-linejoin="round"/>
<polygon points="369.74,133.65 386.79,133.38 391.31,142.59 374.26,142.86" fill="#0071bc" stroke="#0071bc" stroke-width="0.6" stroke-linejoin="round"/>
<polygon points="357.21,155.70 374.26,155.44 374.26,129.01 357.21,129.28" fill="#004f8b" stroke="#004f8b" stroke-width="0.9" stroke-linejoin="round"/>
<polygon points="352.69,120.07 369.74,119.80 374.26,129.01 357.21,129.28" fill="#0071bc" stroke="#0071bc" stroke-width="0.6" stroke-linejoin="round"/>
<polygon points="340.16,155.97 357.21,155.70 357.21,118.89 340.16,119.16" fill="#004f8b" stroke="#004f8b" stroke-width="0.9" stroke-linejoin="round"/>
<polygon points="335.64,109.95 352.69,109.68 357.21,118.89 340.16,119.16" fill="#0071bc" stroke="#0071bc" stroke-width="0.6" stroke-linejoin="round"/>
<polygon points="323.10,156.24 340.16,155.97 340.16,89.27 323.10,89.54" fill="#004f8b" stroke="#004f8b" stroke-width="0.9" stroke-linejoin="round"/>
<polygon points="318.58,80.33 335.64,80.06 340.16,89.27 323.10,89.54" fill="#0071bc" stroke="#0071bc" stroke-width="0.6" stroke-linejoin="round"/>
<polygon points="301.53,147.29 306.05,156.50 306.05,80.30 301.53,71.09" fill="#005a9a" stroke="#005a9a" stroke-width="0.9" stroke-linejoin="round"/>
<polygon points="306.05,156.50 323.10,156.24 323.10,80.04 306.05,80.30" fill="#004f8b" stroke="#004f8b" stroke-width="0.9" stroke-linejoin="round"/>
<polygon points="301.53,71.09 318.58,70.83 323.10,80.04 306.05,80.30" fill="#0071bc" stroke="#0071bc" stroke-width="0.6" stroke-linejoin="round"/>
<polygon points="284.48,147.56 289.00,156.77 289.00,107.67 284.48,98.46" fill="#005a9a" stroke="#005a9a" stroke-width="0.9" stroke-linejoin="round"/>
<polygon points="289.00,156.77 306.05,156.50 306.05,107.40 289.00,107.67" fill="#004f8b" stroke="#004f8b" stroke-width="0.9" stroke-linejoin="round"/>
<polygon points="284.48,98.46 301.53,98.19 306.05,107.40 289.00,107.67" fill="#0071bc" stroke="#0071bc" stroke-width="0.6" stroke-linejoin="round"/>
<polygon points="271.95,157.04 289.00,156.77 289.00,118.17 271.95,118.44" fill="#004f8b" stroke="#004f8b" stroke-width="0.9" stroke-linejoin="round"/>
<polygon points="267.43,109.23 284.48,108.96 289.00,118.17 271.95,118.44" fill="#0071bc" stroke="#0071bc" stroke-width="0.6" stroke-linejoin="round"/>
<polygon points="250.38,148.09 254.90,157.30 254.90,118.70 250.38,109.49" fill="#005a9a" stroke="#005a9a" stroke-width="0.9" stroke-linejoin="round"/>
<polygon points="254.90,157.30 271.95,157.04 271.95,118.44 254.90,118.70" fill="#004f8b" stroke="#004f8b" stroke-width="0.9" stroke-linejoin="round"/>
<polygon points="250.38,109.49 267.43,109.23 271.95,118.44 254.90,118.70" fill="#0071bc" stroke="#0071bc" stroke-width="0.6" stroke-linejoin="round"/>
<polygon points="233.32,148.36 237.84,157.57 237.84,149.67 233.32,140.46" fill="#005a9a" stroke="#005a9a" stroke-width="0.9" stroke-linejoin="round"/>
<polygon points="237.84,157.57 254.90,157.30 254.90,149.40 237.84,149.67" fill="#004f8b" stroke="#004f8b" stroke-width="0.9" stroke-linejoin="round"/>
<polygon points="233.32,140.46 250.38,140.19 254.90,149.40 237.84,149.67" fill="#0071bc" stroke="#0071bc" stroke-width="0.6" stroke-linejoin="round"/>
<polygon points="216.27,148.63 233.32,148.36 237.84,157.57 220.79,157.84" fill="#0071bc" stroke="#0071bc" stroke-width="0.6" stroke-linejoin="round"/>
<polygon points="199.22,148.89 216.27,148.63 220.79,157.84 203.74,158.10" fill="#0071bc" stroke="#0071bc" stroke-width="0.6" stroke-linejoin="round"/>
<polygon points="425.41,154.64 429.93,163.85 429.93,148.85 425.41,139.64" fill="#005a9a" stroke="#005a9a" stroke-width="0.9" stroke-linejoin="round"/>
<polygon points="429.93,163.85 446.99,163.58 446.99,148.58 429.93,148.85" fill="#004f8b" stroke="#004f8b" stroke-width="0.9" stroke-linejoin="round"/>
<polygon points="425.41,139.64 442.47,139.37 446.99,148.58 429.93,148.85" fill="#0071bc" stroke="#0071bc" stroke-width="0.6" stroke-linejoin="round"/>
<polygon points="391.31,155.17 408.36,154.90 412.88,164.11 395.83,164.38" fill="#0071bc" stroke="#0071bc" stroke-width="0.6" stroke-linejoin="round"/>
<polygon points="374.26,155.44 391.31,155.17 395.83,164.38 378.78,164.65" fill="#0071bc" stroke="#0071bc" stroke-width="0.6" stroke-linejoin="round"/>
<polygon points="361.73,164.91 378.78,164.65 378.78,134.76 361.73,135.03" fill="#004f8b" stroke="#004f8b" stroke-width="0.9" stroke-linejoin="round"/>
<polygon points="357.21,125.82 374.26,125.55 378.78,134.76 361.73,135.03" fill="#0071bc" stroke="#0071bc" stroke-width="0.6" stroke-linejoin="round"/>
<polygon points="344.68,165.18 361.73,164.91 361.73,127.24 344.68,127.50" fill="#004f8b" stroke="#004f8b" stroke-width="0.9" stroke-linejoin="round"/>
<polygon points="340.16,118.29 357.21,118.03 361.73,127.24 344.68,127.50" fill="#0071bc" stroke="#0071bc" stroke-width="0.6" stroke-linejoin="round"/>
<polygon points="327.62,165.45 344.68,165.18 344.68,100.68 327.62,100.95" fill="#004f8b" stroke="#004f8b" stroke-width="0.9" stroke-linejoin="round"/>
<polygon points="323.10,91.74 340.16,91.47 344.68,100.68 327.62,100.95" fill="#0071bc" stroke="#0071bc" stroke-width="0.6" stroke-linejoin="round"/>
<polygon points="306.05,156.50 310.57,165.71 310.57,91.21 306.05,82.00" fill="#005a9a" stroke="#005a9a" stroke-width="0.9" stroke-linejoin="round"/>
<polygon points="310.57,165.71 327.62,165.45 327.62,90.95 310.57,91.21" fill="#004f8b" stroke="#004f8b" stroke-width="0.9" stroke-linejoin="round"/>
<polygon points="306.05,82.00 323.10,81.74 327.62,90.95 310.57,91.21" fill="#0071bc" stroke="#0071bc" stroke-width="0.6" stroke-linejoin="round"/>
<polygon points="289.00,156.77 293.52,165.98 293.52,113.59 289.00,104.38" fill="#005a9a" stroke="#005a9a" stroke-width="0.9" stroke-linejoin="round"/>
<polygon points="293.52,165.98 310.57,165.71 310.57,113.32 293.52,113.59" fill="#004f8b" stroke="#004f8b" stroke-width="0.9" stroke-linejoin="round"/>
<polygon points="289.00,104.38 306.05,104.11 310.57,113.32 293.52,113.59" fill="#0071bc" stroke="#0071bc" stroke-width="0.6" stroke-linejoin="round"/>
<polygon points="276.47,166.25 293.52,165.98 293.52,132.98 276.47,133.25" fill="#004f8b" stroke="#004f8b" stroke-width="0.9" stroke-linejoin="round"/>
<polygon points="271.95,124.04 289.00,123.77 293.52,132.98 276.47,133.25" fill="#0071bc" stroke="#0071bc" stroke-width="0.6" stroke-linejoin="round"/>
<polygon points="254.90,157.30 259.42,166.51 259.42,133.51 254.90,124.30" fill="#005a9a" stroke="#005a9a" stroke-width="0.9" stroke-linejoin="round"/>
<polygon points="259.42,166.51 276.47,166.25 276.47,133.25 259.42,133.51" fill="#004f8b" stroke="#004f8b" stroke-width="0.9" stroke-linejoin="round"/>
<polygon points="254.90,124.30 271.95,124.04 276.47,133.25 259.42,133.51" fill="#0071bc" stroke="#0071bc" stroke-width="0.6" stroke-linejoin="round"/>
<polygon points="237.84,157.57 254.90,157.30 259.42,166.51 242.36,166.78" fill="#0071bc" stroke="#0071bc" stroke-width="0.6" stroke-linejoin="round"/>
<polygon points="412.88,164.11 429.93,163.85 434.45,173.06 417.40,173.32" fill="#0071bc" stroke="#0071bc" stroke-width="0.6" stroke-linejoin="round"/>
<polygon points="378.78,164.65 395.83,164.38 400.35,173.59 383.30,173.86" fill="#0071bc" stroke="#0071bc" stroke-width="0.6" stroke-linejoin="round"/>
<polygon points="366.25,174.12 383.30,173.86 383.30,142.24 366.25,142.51" fill="#004f8b" stroke="#004f8b" stroke-width="0.9" stroke-linejoin="round"/>
<polygon points="361.73,133.30 378.78,133.03 383.30,142.24 366.25,142.51" fill="#0071bc" stroke="#0071bc" stroke-width="0.6" stroke-linejoin="round"/>
<polygon points="349.20,174.39 366.25,174.12 366.25,139.04 349.20,139.31" fill="#004f8b" stroke="#004f8b" stroke-width="0.9" stroke-linejoin="round"/>
<polygon points="344.68,130.10 361.73,129.83 366.25,139.04 349.20,139.31" fill="#0071bc" stroke="#0071bc" stroke-width="0.6" stroke-linejoin="round"/>
<polygon points="332.14,174.66 349.20,174.39 349.20,111.39 332.14,111.66" fill="#004f8b" stroke="#004f8b" stroke-width="0.9" stroke-linejoin="round"/>
<polygon points="327.62,102.45 344.68,102.18 349.20,111.39 332.14,111.66" fill="#0071bc" stroke="#0071bc" stroke-width="0.6" stroke-linejoin="round"/>
<polygon points="310.57,165.71 315.09,174.92 315.09,101.92 310.57,92.71" fill="#005a9a" stroke="#005a9a" stroke-width="0.9" stroke-linejoin="round"/>
<polygon points="315.09,174.92 332.14,174.66 332.14,101.66 315.09,101.92" fill="#004f8b" stroke="#004f8b" stroke-width="0.9" stroke-linejoin="round"/>
<polygon points="310.57,92.71 327.62,92.45 332.14,101.66 315.09,101.92" fill="#0071bc" stroke="#0071bc" stroke-width="0.6" stroke-linejoin="round"/>
<polygon points="293.52,165.98 298.04,175.19 298.04,124.53 293.52,115.32" fill="#005a9a" stroke="#005a9a" stroke-width="0.9" stroke-linejoin="round"/>
<polygon points="298.04,175.19 315.09,174.92 315.09,124.27 298.04,124.53" fill="#004f8b" stroke="#004f8b" stroke-width="0.9" stroke-linejoin="round"/>
<polygon points="293.52,115.32 310.57,115.06 315.09,124.27 298.04,124.53" fill="#0071bc" stroke="#0071bc" stroke-width="0.6" stroke-linejoin="round"/>
<polygon points="276.47,166.25 280.99,175.46 280.99,142.46 276.47,133.25" fill="#005a9a" stroke="#005a9a" stroke-width="0.9" stroke-linejoin="round"/>
<polygon points="280.99,175.46 298.04,175.19 298.04,142.19 280.99,142.46" fill="#004f8b" stroke="#004f8b" stroke-width="0.9" stroke-linejoin="round"/>
<polygon points="276.47,133.25 293.52,132.98 298.04,142.19 280.99,142.46" fill="#0071bc" stroke="#0071bc" stroke-width="0.6" stroke-linejoin="round"/>
<polygon points="259.42,166.51 263.94,175.72 263.94,153.72 259.42,144.51" fill="#005a9a" stroke="#005a9a" stroke-width="0.9" stroke-linejoin="round"/>
<polygon points="263.94,175.72 280.99,175.46 280.99,153.46 263.94,153.72" fill="#004f8b" stroke="#004f8b" stroke-width="0.9" stroke-linejoin="round"/>
<polygon points="259.42,144.51 276.47,144.25 280.99,153.46 263.94,153.72" fill="#0071bc" stroke="#0071bc" stroke-width="0.6" stroke-linejoin="round"/>
<polygon points="242.36,166.78 246.88,175.99 246.88,164.49 242.36,155.28" fill="#005a9a" stroke="#005a9a" stroke-width="0.9" stroke-linejoin="round"/>
<polygon points="246.88,175.99 263.94,175.72 263.94,164.22 246.88,164.49" fill="#004f8b" stroke="#004f8b" stroke-width="0.9" stroke-linejoin="round"/>
<polygon points="242.36,155.28 259.42,155.01 263.94,164.22 246.88,164.49" fill="#0071bc" stroke="#0071bc" stroke-width="0.6" stroke-linejoin="round"/>
<polygon points="400.35,173.59 417.40,173.32 421.92,182.53 404.87,182.80" fill="#0071bc" stroke="#0071bc" stroke-width="0.6" stroke-linejoin="round"/>
<polygon points="383.30,173.86 400.35,173.59 404.87,182.80 387.82,183.07" fill="#0071bc" stroke="#0071bc" stroke-width="0.6" stroke-linejoin="round"/>
<polygon points="370.77,183.33 387.82,183.07 387.82,161.83 370.77,162.10" fill="#004f8b" stroke="#004f8b" stroke-width="0.9" stroke-linejoin="round"/>
<polygon points="366.25,152.89 383.30,152.62 387.82,161.83 370.77,162.10" fill="#0071bc" stroke="#0071bc" stroke-width="0.6" stroke-linejoin="round"/>
<polygon points="353.72,183.60 370.77,183.33 370.77,149.12 353.72,149.39" fill="#004f8b" stroke="#004f8b" stroke-width="0.9" stroke-linejoin="round"/>
<polygon points="349.20,140.18 366.25,139.91 370.77,149.12 353.72,149.39" fill="#0071bc" stroke="#0071bc" stroke-width="0.6" stroke-linejoin="round"/>
<polygon points="336.66,183.87 353.72,183.60 353.72,121.60 336.66,121.87" fill="#004f8b" stroke="#004f8b" stroke-width="0.9" stroke-linejoin="round"/>
<polygon points="332.14,112.66 349.20,112.39 353.72,121.60 336.66,121.87" fill="#0071bc" stroke="#0071bc" stroke-width="0.6" stroke-linejoin="round"/>
<polygon points="315.09,174.92 319.61,184.13 319.61,111.13 315.09,101.92" fill="#005a9a" stroke="#005a9a" stroke-width="0.9" stroke-linejoin="round"/>
<polygon points="319.61,184.13 336.66,183.87 336.66,110.87 319.61,111.13" fill="#004f8b" stroke="#004f8b" stroke-width="0.9" stroke-linejoin="round"/>
<polygon points="315.09,101.92 332.14,101.66 336.66,110.87 319.61,111.13" fill="#0071bc" stroke="#0071bc" stroke-width="0.6" stroke-linejoin="round"/>
<polygon points="298.04,175.19 302.56,184.40 302.56,137.20 298.04,127.99" fill="#005a9a" stroke="#005a9a" stroke-width="0.9" stroke-linejoin="round"/>
<polygon points="302.56,184.40 319.61,184.13 319.61,136.94 302.56,137.20" fill="#004f8b" stroke="#004f8b" stroke-width="0.9" stroke-linejoin="round"/>
<polygon points="298.04,127.99 315.09,127.73 319.61,136.94 302.56,137.20" fill="#0071bc" stroke="#0071bc" stroke-width="0.6" stroke-linejoin="round"/>
<polygon points="280.99,175.46 285.51,184.67 285.51,154.67 280.99,145.46" fill="#005a9a" stroke="#005a9a" stroke-width="0.9" stroke-linejoin="round"/>
<polygon points="285.51,184.67 302.56,184.40 302.56,154.40 285.51,154.67" fill="#004f8b" stroke="#004f8b" stroke-width="0.9" stroke-linejoin="round"/>
<polygon points="280.99,145.46 298.04,145.19 302.56,154.40 285.51,154.67" fill="#0071bc" stroke="#0071bc" stroke-width="0.6" stroke-linejoin="round"/>
<polygon points="263.94,175.72 268.46,184.93 268.46,165.43 263.94,156.22" fill="#005a9a" stroke="#005a9a" stroke-width="0.9" stroke-linejoin="round"/>
<polygon points="268.46,184.93 285.51,184.67 285.51,165.16 268.46,165.43" fill="#004f8b" stroke="#004f8b" stroke-width="0.9" stroke-linejoin="round"/>
<polygon points="263.94,156.22 280.99,155.95 285.51,165.16 268.46,165.43" fill="#0071bc" stroke="#0071bc" stroke-width="0.6" stroke-linejoin="round"/>
<polygon points="246.88,175.99 263.94,175.72 268.46,184.93 251.40,185.20" fill="#0071bc" stroke="#0071bc" stroke-width="0.6" stroke-linejoin="round"/>
<polygon points="421.92,182.53 438.97,182.27 443.49,191.48 426.44,191.74" fill="#0071bc" stroke="#0071bc" stroke-width="0.6" stroke-linejoin="round"/>
<polygon points="387.82,183.07 404.87,182.80 409.39,192.01 392.34,192.28" fill="#0071bc" stroke="#0071bc" stroke-width="0.6" stroke-linejoin="round"/>
<polygon points="375.29,192.54 392.34,192.28 392.34,169.31 375.29,169.58" fill="#004f8b" stroke="#004f8b" stroke-width="0.9" stroke-linejoin="round"/>
<polygon points="370.77,160.37 387.82,160.10 392.34,169.31 375.29,169.58" fill="#0071bc" stroke="#0071bc" stroke-width="0.6" stroke-linejoin="round"/>
<polygon points="358.24,192.81 375.29,192.54 375.29,154.87 358.24,155.13" fill="#004f8b" stroke="#004f8b" stroke-width="0.9" stroke-linejoin="round"/>
<polygon points="353.72,145.92 370.77,145.66 375.29,154.87 358.24,155.13" fill="#0071bc" stroke="#0071bc" stroke-width="0.6" stroke-linejoin="round"/>
<polygon points="341.18,193.08 358.24,192.81 358.24,131.31 341.18,131.58" fill="#004f8b" stroke="#004f8b" stroke-width="0.9" stroke-linejoin="round"/>
<polygon points="336.66,122.37 353.72,122.10 358.24,131.31 341.18,131.58" fill="#0071bc" stroke="#0071bc" stroke-width="0.6" stroke-linejoin="round"/>
<polygon points="319.61,184.13 324.13,193.34 324.13,120.34 319.61,111.13" fill="#005a9a" stroke="#005a9a" stroke-width="0.9" stroke-linejoin="round"/>
<polygon points="324.13,193.34 341.18,193.08 341.18,120.08 324.13,120.34" fill="#004f8b" stroke="#004f8b" stroke-width="0.9" stroke-linejoin="round"/>
<polygon points="319.61,111.13 336.66,110.87 341.18,120.08 324.13,120.34" fill="#0071bc" stroke="#0071bc" stroke-width="0.6" stroke-linejoin="round"/>
<polygon points="302.56,184.40 307.08,193.61 307.08,155.93 302.56,146.72" fill="#005a9a" stroke="#005a9a" stroke-width="0.9" stroke-linejoin="round"/>
<polygon points="307.08,193.61 324.13,193.34 324.13,155.67 307.08,155.93" fill="#004f8b" stroke="#004f8b" stroke-width="0.9" stroke-linejoin="round"/>
<polygon points="302.56,146.72 319.61,146.46 324.13,155.67 307.08,155.93" fill="#0071bc" stroke="#0071bc" stroke-width="0.6" stroke-linejoin="round"/>
<polygon points="285.51,184.67 290.03,193.88 290.03,172.88 285.51,163.67" fill="#005a9a" stroke="#005a9a" stroke-width="0.9" stroke-linejoin="round"/>
<polygon points="290.03,193.88 307.08,193.61 307.08,172.61 290.03,172.88" fill="#004f8b" stroke="#004f8b" stroke-width="0.9" stroke-linejoin="round"/>
<polygon points="285.51,163.67 302.56,163.40 307.08,172.61 290.03,172.88" fill="#0071bc" stroke="#0071bc" stroke-width="0.6" stroke-linejoin="round"/>
<polygon points="268.46,184.93 272.98,194.14 272.98,179.83 268.46,170.62" fill="#005a9a" stroke="#005a9a" stroke-width="0.9" stroke-linejoin="round"/>
<polygon points="272.98,194.14 290.03,193.88 290.03,179.57 272.98,179.83" fill="#004f8b" stroke="#004f8b" stroke-width="0.9" stroke-linejoin="round"/>
<polygon points="268.46,170.62 285.51,170.36 290.03,179.57 272.98,179.83" fill="#0071bc" stroke="#0071bc" stroke-width="0.6" stroke-linejoin="round"/>
<polygon points="251.40,185.20 268.46,184.93 272.98,194.14 255.92,194.41" fill="#0071bc" stroke="#0071bc" stroke-width="0.6" stroke-linejoin="round"/>
<polygon points="392.34,192.28 409.39,192.01 413.91,201.22 396.86,201.49" fill="#0071bc" stroke="#0071bc" stroke-width="0.6" stroke-linejoin="round"/>
<polygon points="379.81,201.75 396.86,201.49 396.86,181.98 379.81,182.25" fill="#004f8b" stroke="#004f8b" stroke-width="0.9" stroke-linejoin="round"/>
<polygon points="375.29,173.04 392.34,172.77 396.86,181.98 379.81,182.25" fill="#0071bc" stroke="#0071bc" stroke-width="0.6" stroke-linejoin="round"/>
<polygon points="362.76,202.02 379.81,201.75 379.81,164.08 362.76,164.34" fill="#004f8b" stroke="#004f8b" stroke-width="0.9" stroke-linejoin="round"/>
<polygon points="358.24,155.13 375.29,154.87 379.81,164.08 362.76,164.34" fill="#0071bc" stroke="#0071bc" stroke-width="0.6" stroke-linejoin="round"/>
<polygon points="345.70,202.29 362.76,202.02 362.76,141.02 345.70,141.29" fill="#004f8b" stroke="#004f8b" stroke-width="0.9" stroke-linejoin="round"/>
<polygon points="341.18,132.08 358.24,131.81 362.76,141.02 345.70,141.29" fill="#0071bc" stroke="#0071bc" stroke-width="0.6" stroke-linejoin="round"/>
<polygon points="324.13,193.34 328.65,202.55 328.65,129.75 324.13,120.54" fill="#005a9a" stroke="#005a9a" stroke-width="0.9" stroke-linejoin="round"/>
<polygon points="328.65,202.55 345.70,202.29 345.70,129.49 328.65,129.75" fill="#004f8b" stroke="#004f8b" stroke-width="0.9" stroke-linejoin="round"/>
<polygon points="324.13,120.54 341.18,120.28 345.70,129.49 328.65,129.75" fill="#0071bc" stroke="#0071bc" stroke-width="0.6" stroke-linejoin="round"/>
<polygon points="307.08,193.61 311.60,202.82 311.60,165.14 307.08,155.93" fill="#005a9a" stroke="#005a9a" stroke-width="0.9" stroke-linejoin="round"/>
<polygon points="311.60,202.82 328.65,202.55 328.65,164.88 311.60,165.14" fill="#004f8b" stroke="#004f8b" stroke-width="0.9" stroke-linejoin="round"/>
<polygon points="307.08,155.93 324.13,155.67 328.65,164.88 311.60,165.14" fill="#0071bc" stroke="#0071bc" stroke-width="0.6" stroke-linejoin="round"/>
<polygon points="290.03,193.88 294.55,203.09 294.55,181.85 290.03,172.64" fill="#005a9a" stroke="#005a9a" stroke-width="0.9" stroke-linejoin="round"/>
<polygon points="294.55,203.09 311.60,202.82 311.60,181.59 294.55,181.85" fill="#004f8b" stroke="#004f8b" stroke-width="0.9" stroke-linejoin="round"/>
<polygon points="290.03,172.64 307.08,172.38 311.60,181.59 294.55,181.85" fill="#0071bc" stroke="#0071bc" stroke-width="0.6" stroke-linejoin="round"/>
<polygon points="272.98,194.14 290.03,193.88 294.55,203.09 277.50,203.35" fill="#0071bc" stroke="#0071bc" stroke-width="0.6" stroke-linejoin="round"/>
<polygon points="255.92,194.41 272.98,194.14 277.50,203.35 260.44,203.62" fill="#0071bc" stroke="#0071bc" stroke-width="0.6" stroke-linejoin="round"/>
<polygon points="413.91,201.22 418.43,210.43 418.43,199.43 413.91,190.22" fill="#005a9a" stroke="#005a9a" stroke-width="0.9" stroke-linejoin="round"/>
<polygon points="418.43,210.43 435.48,210.16 435.48,199.16 418.43,199.43" fill="#004f8b" stroke="#004f8b" stroke-width="0.9" stroke-linejoin="round"/>
<polygon points="413.91,190.22 430.96,189.95 435.48,199.16 418.43,199.43" fill="#0071bc" stroke="#0071bc" stroke-width="0.6" stroke-linejoin="round"/>
<polygon points="401.38,210.70 418.43,210.43 418.43,202.43 401.38,202.70" fill="#004f8b" stroke="#004f8b" stroke-width="0.9" stroke-linejoin="round"/>
<polygon points="396.86,193.49 413.91,193.22 418.43,202.43 401.38,202.70" fill="#0071bc" stroke="#0071bc" stroke-width="0.6" stroke-linejoin="round"/>
<polygon points="384.33,210.96 401.38,210.70 401.38,202.70 384.33,202.96" fill="#004f8b" stroke="#004f8b" stroke-width="0.9" stroke-linejoin="round"/>
<polygon points="379.81,193.75 396.86,193.49 401.38,202.70 384.33,202.96" fill="#0071bc" stroke="#0071bc" stroke-width="0.6" stroke-linejoin="round"/>
<polygon points="367.28,211.23 384.33,210.96 384.33,173.29 367.28,173.55" fill="#004f8b" stroke="#004f8b" stroke-width="0.9" stroke-linejoin="round"/>
<polygon points="362.76,164.34 379.81,164.08 384.33,173.29 367.28,173.55" fill="#0071bc" stroke="#0071bc" stroke-width="0.6" stroke-linejoin="round"/>
<polygon points="350.22,211.50 367.28,211.23 367.28,150.43 350.22,150.70" fill="#004f8b" stroke="#004f8b" stroke-width="0.9" stroke-linejoin="round"/>
<polygon points="345.70,141.49 362.76,141.22 367.28,150.43 350.22,150.70" fill="#0071bc" stroke="#0071bc" stroke-width="0.6" stroke-linejoin="round"/>
<polygon points="328.65,202.55 333.17,211.76 333.17,139.06 328.65,129.85" fill="#005a9a" stroke="#005a9a" stroke-width="0.9" stroke-linejoin="round"/>
<polygon points="333.17,211.76 350.22,211.50 350.22,138.80 333.17,139.06" fill="#004f8b" stroke="#004f8b" stroke-width="0.9" stroke-linejoin="round"/>
<polygon points="328.65,129.85 345.70,129.59 350.22,138.80 333.17,139.06" fill="#0071bc" stroke="#0071bc" stroke-width="0.6" stroke-linejoin="round"/>
<polygon points="311.60,202.82 316.12,212.03 316.12,173.83 311.60,164.62" fill="#005a9a" stroke="#005a9a" stroke-width="0.9" stroke-linejoin="round"/>
<polygon points="316.12,212.03 333.17,211.76 333.17,173.56 316.12,173.83" fill="#004f8b" stroke="#004f8b" stroke-width="0.9" stroke-linejoin="round"/>
<polygon points="311.60,164.62 328.65,164.35 333.17,173.56 316.12,173.83" fill="#0071bc" stroke="#0071bc" stroke-width="0.6" stroke-linejoin="round"/>
<polygon points="294.55,203.09 299.07,212.30 299.07,193.00 294.55,183.79" fill="#005a9a" stroke="#005a9a" stroke-width="0.9" stroke-linejoin="round"/>
<polygon points="299.07,212.30 316.12,212.03 316.12,192.73 299.07,193.00" fill="#004f8b" stroke="#004f8b" stroke-width="0.9" stroke-linejoin="round"/>
<polygon points="294.55,183.79 311.60,183.52 316.12,192.73 299.07,193.00" fill="#0071bc" stroke="#0071bc" stroke-width="0.6" stroke-linejoin="round"/>
<polygon points="277.50,203.35 294.55,203.09 299.07,212.30 282.02,212.56" fill="#0071bc" stroke="#0071bc" stroke-width="0.6" stroke-linejoin="round"/>
<polygon points="260.44,203.62 277.50,203.35 282.02,212.56 264.96,212.83" fill="#0071bc" stroke="#0071bc" stroke-width="0.6" stroke-linejoin="round"/>
<polygon points="243.39,203.89 260.44,203.62 264.96,212.83 247.91,213.10" fill="#0071bc" stroke="#0071bc" stroke-width="0.6" stroke-linejoin="round"/>
<line x1="605.95" y1="96.20" x2="605.95" y2="207.50" stroke="#262626" stroke-width="1.2"/>
<line x1="42.60" y1="123.50" x2="87.80" y2="215.60" stroke="#262626" stroke-width="1.2"/>
<line x1="87.80" y1="215.60" x2="605.95" y2="207.50" stroke="#262626" stroke-width="1.2"/>
<line x1="130.98" y1="214.93" x2="136.86" y2="226.90" stroke="#262626" stroke-width="1.0"/>
<line x1="184.95" y1="214.08" x2="190.83" y2="226.05" stroke="#262626" stroke-width="1.0"/>
<line x1="238.93" y1="213.24" x2="244.80" y2="225.21" stroke="#262626" stroke-width="1.0"/>
<line x1="292.90" y1="212.39" x2="298.78" y2="224.37" stroke="#262626" stroke-width="1.0"/>
<line x1="346.88" y1="211.55" x2="352.75" y2="223.52" stroke="#262626" stroke-width="1.0"/>
<line x1="400.85" y1="210.71" x2="406.72" y2="222.68" stroke="#262626" stroke-width="1.0"/>
<line x1="454.82" y1="209.86" x2="460.70" y2="221.84" stroke="#262626" stroke-width="1.0"/>
<line x1="508.80" y1="209.02" x2="514.67" y2="220.99" stroke="#262626" stroke-width="1.0"/>
<line x1="562.77" y1="208.18" x2="568.65" y2="220.15" stroke="#262626" stroke-width="1.0"/>
<line x1="42.60" y1="123.50" x2="29.65" y2="123.70" stroke="#262626" stroke-width="1.0"/>
<line x1="65.20" y1="169.55" x2="52.25" y2="169.75" stroke="#262626" stroke-width="1.0"/>
<line x1="87.80" y1="215.60" x2="74.85" y2="215.80" stroke="#262626" stroke-width="1.0"/>
<line x1="75.93" y1="215.79" x2="98.06" y2="215.44" stroke="#8a8a8a" stroke-width="1.25"/>
<line x1="42.60" y1="265.00" x2="560.75" y2="256.90" stroke="#262626" stroke-width="1.0"/>
<line x1="560.75" y1="256.90" x2="605.95" y2="349.00" stroke="#262626" stroke-width="1.0"/>
<line x1="560.75" y1="368.20" x2="560.75" y2="256.90" stroke="#262626" stroke-width="0.9"/>
<line x1="42.60" y1="376.30" x2="42.60" y2="265.00" stroke="#262626" stroke-width="1.0"/>
<line x1="42.60" y1="376.30" x2="560.75" y2="368.20" stroke="#262626" stroke-width="0.9"/>
<line x1="560.75" y1="368.20" x2="605.95" y2="460.30" stroke="#262626" stroke-width="1.0"/>
<line x1="42.60" y1="265.00" x2="36.95" y2="253.49" stroke="#262626" stroke-width="1.0"/>
<line x1="42.60" y1="292.83" x2="36.95" y2="281.31" stroke="#262626" stroke-width="1.0"/>
<line x1="42.60" y1="320.65" x2="36.95" y2="309.14" stroke="#262626" stroke-width="1.0"/>
<polygon points="42.60,320.65 560.75,312.55 605.95,404.65 87.80,412.75" fill="#000000" stroke="#000000" stroke-width="0.6" stroke-linejoin="round"/>
<polygon points="43.10,320.64 56.08,320.44 60.60,329.65 47.62,329.85" fill="#2d0000" stroke="#000000" stroke-width="0.55" stroke-linejoin="round"/>
<polygon points="123.50,319.39 140.36,319.12 144.88,328.33 128.03,328.60" fill="#3c0000" stroke="#000000" stroke-width="0.55" stroke-linejoin="round"/>
<polygon points="140.36,319.12 157.22,318.86 161.74,328.07 144.88,328.33" fill="#3c0000" stroke="#000000" stroke-width="0.55" stroke-linejoin="round"/>
<polygon points="174.07,318.59 190.92,318.33 195.44,327.54 178.59,327.80" fill="#aa0000" stroke="#000000" stroke-width="0.55" stroke-linejoin="round"/>
<polygon points="190.92,318.33 207.78,318.07 212.30,327.28 195.44,327.54" fill="#aa0000" stroke="#000000" stroke-width="0.55" stroke-linejoin="round"/>
<polygon points="207.78,318.07 224.63,317.80 229.16,327.01 212.30,327.28" fill="#c80000" stroke="#000000" stroke-width="0.55" stroke-linejoin="round"/>
<polygon points="224.63,317.80 241.49,317.54 246.01,326.75 229.16,327.01" fill="#f01e00" stroke="#000000" stroke-width="0.55" stroke-linejoin="round"/>
<polygon points="241.49,317.54 258.35,317.28 262.87,326.49 246.01,326.75" fill="#ff4600" stroke="#000000" stroke-width="0.55" stroke-linejoin="round"/>
<polygon points="258.35,317.28 275.20,317.01 279.72,326.22 262.87,326.49" fill="#ff9600" stroke="#000000" stroke-width="0.55" stroke-linejoin="round"/>
<polygon points="275.20,317.01 292.06,316.75 296.57,325.96 279.72,326.22" fill="#ffd200" stroke="#000000" stroke-width="0.55" stroke-linejoin="round"/>
<polygon points="292.06,316.75 308.91,316.49 313.43,325.70 296.57,325.96" fill="#fffacd" stroke="#000000" stroke-width="0.55" stroke-linejoin="round"/>
<polygon points="308.91,316.49 325.77,316.22 330.29,325.43 313.43,325.70" fill="#fffa14" stroke="#000000" stroke-width="0.55" stroke-linejoin="round"/>
<polygon points="325.77,316.22 342.62,315.96 347.14,325.17 330.29,325.43" fill="#ff9600" stroke="#000000" stroke-width="0.55" stroke-linejoin="round"/>
<polygon points="342.62,315.96 359.48,315.70 364.00,324.91 347.14,325.17" fill="#ff5a00" stroke="#000000" stroke-width="0.55" stroke-linejoin="round"/>
<polygon points="359.48,315.70 376.33,315.43 380.85,324.64 364.00,324.91" fill="#fa1400" stroke="#000000" stroke-width="0.55" stroke-linejoin="round"/>
<polygon points="376.33,315.43 393.19,315.17 397.70,324.38 380.85,324.64" fill="#d20000" stroke="#000000" stroke-width="0.55" stroke-linejoin="round"/>
<polygon points="393.19,315.17 410.04,314.91 414.56,324.12 397.70,324.38" fill="#960000" stroke="#000000" stroke-width="0.55" stroke-linejoin="round"/>
<polygon points="410.04,314.91 426.90,314.64 431.42,323.85 414.56,324.12" fill="#5a0000" stroke="#000000" stroke-width="0.55" stroke-linejoin="round"/>
<polygon points="426.90,314.64 443.75,314.38 448.27,323.59 431.42,323.85" fill="#820000" stroke="#000000" stroke-width="0.55" stroke-linejoin="round"/>
<polygon points="460.61,314.12 477.46,313.85 481.98,323.06 465.12,323.33" fill="#640000" stroke="#000000" stroke-width="0.55" stroke-linejoin="round"/>
<polygon points="544.88,312.80 561.40,312.54 565.92,321.75 549.40,322.01" fill="#3c0000" stroke="#000000" stroke-width="0.55" stroke-linejoin="round"/>
<polygon points="212.30,327.28 229.16,327.01 233.67,336.22 216.82,336.49" fill="#5a0000" stroke="#000000" stroke-width="0.55" stroke-linejoin="round"/>
<polygon points="229.16,327.01 246.01,326.75 250.53,335.96 233.67,336.22" fill="#be0000" stroke="#000000" stroke-width="0.55" stroke-linejoin="round"/>
<polygon points="246.01,326.75 262.87,326.49 267.39,335.70 250.53,335.96" fill="#d20000" stroke="#000000" stroke-width="0.55" stroke-linejoin="round"/>
<polygon points="262.87,326.49 279.72,326.22 284.24,335.43 267.39,335.70" fill="#e60a00" stroke="#000000" stroke-width="0.55" stroke-linejoin="round"/>
<polygon points="279.72,326.22 296.57,325.96 301.10,335.17 284.24,335.43" fill="#ff5000" stroke="#000000" stroke-width="0.55" stroke-linejoin="round"/>
<polygon points="296.57,325.96 313.43,325.70 317.95,334.91 301.10,335.17" fill="#ffb400" stroke="#000000" stroke-width="0.55" stroke-linejoin="round"/>
<polygon points="313.43,325.70 330.29,325.43 334.81,334.64 317.95,334.91" fill="#ff8200" stroke="#000000" stroke-width="0.55" stroke-linejoin="round"/>
<polygon points="330.29,325.43 347.14,325.17 351.66,334.38 334.81,334.64" fill="#f01400" stroke="#000000" stroke-width="0.55" stroke-linejoin="round"/>
<polygon points="347.14,325.17 364.00,324.91 368.52,334.12 351.66,334.38" fill="#a00000" stroke="#000000" stroke-width="0.55" stroke-linejoin="round"/>
<polygon points="364.00,324.91 380.85,324.64 385.37,333.85 368.52,334.12" fill="#780000" stroke="#000000" stroke-width="0.55" stroke-linejoin="round"/>
<polygon points="380.85,324.64 397.70,324.38 402.23,333.59 385.37,333.85" fill="#5a0000" stroke="#000000" stroke-width="0.55" stroke-linejoin="round"/>
<polygon points="397.70,324.38 414.56,324.12 419.08,333.33 402.23,333.59" fill="#500000" stroke="#000000" stroke-width="0.55" stroke-linejoin="round"/>
<polygon points="199.96,336.75 216.82,336.49 221.34,345.70 204.48,345.96" fill="#500000" stroke="#000000" stroke-width="0.55" stroke-linejoin="round"/>
<polygon points="233.67,336.22 250.53,335.96 255.05,345.17 238.19,345.43" fill="#c80000" stroke="#000000" stroke-width="0.55" stroke-linejoin="round"/>
<polygon points="250.53,335.96 267.39,335.70 271.91,344.91 255.05,345.17" fill="#d20000" stroke="#000000" stroke-width="0.55" stroke-linejoin="round"/>
<polygon points="267.39,335.70 284.24,335.43 288.76,344.64 271.91,344.91" fill="#dc0000" stroke="#000000" stroke-width="0.55" stroke-linejoin="round"/>
<polygon points="284.24,335.43 301.10,335.17 305.62,344.38 288.76,344.64" fill="#ff4600" stroke="#000000" stroke-width="0.55" stroke-linejoin="round"/>
<polygon points="301.10,335.17 317.95,334.91 322.47,344.12 305.62,344.38" fill="#ffb400" stroke="#000000" stroke-width="0.55" stroke-linejoin="round"/>
<polygon points="317.95,334.91 334.81,334.64 339.33,343.85 322.47,344.12" fill="#ff6e00" stroke="#000000" stroke-width="0.55" stroke-linejoin="round"/>
<polygon points="334.81,334.64 351.66,334.38 356.18,343.59 339.33,343.85" fill="#e60a00" stroke="#000000" stroke-width="0.55" stroke-linejoin="round"/>
<polygon points="351.66,334.38 368.52,334.12 373.04,343.33 356.18,343.59" fill="#aa0000" stroke="#000000" stroke-width="0.55" stroke-linejoin="round"/>
<polygon points="368.52,334.12 385.37,333.85 389.89,343.06 373.04,343.33" fill="#aa0000" stroke="#000000" stroke-width="0.55" stroke-linejoin="round"/>
<polygon points="402.23,333.59 419.08,333.33 423.60,342.54 406.75,342.80" fill="#6e0000" stroke="#000000" stroke-width="0.55" stroke-linejoin="round"/>
<polygon points="221.34,345.70 238.19,345.43 242.72,354.64 225.86,354.91" fill="#460000" stroke="#000000" stroke-width="0.55" stroke-linejoin="round"/>
<polygon points="238.19,345.43 255.05,345.17 259.57,354.38 242.72,354.64" fill="#640000" stroke="#000000" stroke-width="0.55" stroke-linejoin="round"/>
<polygon points="255.05,345.17 271.91,344.91 276.43,354.12 259.57,354.38" fill="#dc0000" stroke="#000000" stroke-width="0.55" stroke-linejoin="round"/>
<polygon points="271.91,344.91 288.76,344.64 293.28,353.85 276.43,354.12" fill="#f00a00" stroke="#000000" stroke-width="0.55" stroke-linejoin="round"/>
<polygon points="288.76,344.64 305.62,344.38 310.13,353.59 293.28,353.85" fill="#ff5000" stroke="#000000" stroke-width="0.55" stroke-linejoin="round"/>
<polygon points="305.62,344.38 322.47,344.12 326.99,353.33 310.13,353.59" fill="#ffaa00" stroke="#000000" stroke-width="0.55" stroke-linejoin="round"/>
<polygon points="322.47,344.12 339.33,343.85 343.85,353.06 326.99,353.33" fill="#ff6400" stroke="#000000" stroke-width="0.55" stroke-linejoin="round"/>
<polygon points="339.33,343.85 356.18,343.59 360.70,352.80 343.85,353.06" fill="#dc0000" stroke="#000000" stroke-width="0.55" stroke-linejoin="round"/>
<polygon points="356.18,343.59 373.04,343.33 377.56,352.54 360.70,352.80" fill="#a00000" stroke="#000000" stroke-width="0.55" stroke-linejoin="round"/>
<polygon points="373.04,343.33 389.89,343.06 394.41,352.27 377.56,352.54" fill="#500000" stroke="#000000" stroke-width="0.55" stroke-linejoin="round"/>
<polygon points="406.75,342.80 423.60,342.54 428.12,351.75 411.26,352.01" fill="#5a0000" stroke="#000000" stroke-width="0.55" stroke-linejoin="round"/>
<polygon points="423.60,342.54 440.46,342.27 444.98,351.48 428.12,351.75" fill="#460000" stroke="#000000" stroke-width="0.55" stroke-linejoin="round"/>
<polygon points="242.72,354.64 259.57,354.38 264.09,363.59 247.23,363.85" fill="#3c0000" stroke="#000000" stroke-width="0.55" stroke-linejoin="round"/>
<polygon points="259.57,354.38 276.43,354.12 280.95,363.33 264.09,363.59" fill="#dc0000" stroke="#000000" stroke-width="0.55" stroke-linejoin="round"/>
<polygon points="276.43,354.12 293.28,353.85 297.80,363.06 280.95,363.33" fill="#f00a00" stroke="#000000" stroke-width="0.55" stroke-linejoin="round"/>
<polygon points="293.28,353.85 310.13,353.59 314.66,362.80 297.80,363.06" fill="#ff4600" stroke="#000000" stroke-width="0.55" stroke-linejoin="round"/>
<polygon points="310.13,353.59 326.99,353.33 331.51,362.54 314.66,362.80" fill="#ffa000" stroke="#000000" stroke-width="0.55" stroke-linejoin="round"/>
<polygon points="326.99,353.33 343.85,353.06 348.37,362.27 331.51,362.54" fill="#ff5a00" stroke="#000000" stroke-width="0.55" stroke-linejoin="round"/>
<polygon points="343.85,353.06 360.70,352.80 365.22,362.01 348.37,362.27" fill="#f00a00" stroke="#000000" stroke-width="0.55" stroke-linejoin="round"/>
<polygon points="360.70,352.80 377.56,352.54 382.08,361.75 365.22,362.01" fill="#b40000" stroke="#000000" stroke-width="0.55" stroke-linejoin="round"/>
<polygon points="428.12,351.75 444.98,351.48 449.50,360.69 432.64,360.96" fill="#640000" stroke="#000000" stroke-width="0.55" stroke-linejoin="round"/>
<polygon points="247.23,363.85 264.09,363.59 268.61,372.80 251.75,373.06" fill="#5a0000" stroke="#000000" stroke-width="0.55" stroke-linejoin="round"/>
<polygon points="264.09,363.59 280.95,363.33 285.47,372.54 268.61,372.80" fill="#960000" stroke="#000000" stroke-width="0.55" stroke-linejoin="round"/>
<polygon points="280.95,363.33 297.80,363.06 302.32,372.27 285.47,372.54" fill="#dc0000" stroke="#000000" stroke-width="0.55" stroke-linejoin="round"/>
<polygon points="297.80,363.06 314.66,362.80 319.18,372.01 302.32,372.27" fill="#ff3c00" stroke="#000000" stroke-width="0.55" stroke-linejoin="round"/>
<polygon points="314.66,362.80 331.51,362.54 336.03,371.75 319.18,372.01" fill="#ffa000" stroke="#000000" stroke-width="0.55" stroke-linejoin="round"/>
<polygon points="331.51,362.54 348.37,362.27 352.89,371.48 336.03,371.75" fill="#ff5000" stroke="#000000" stroke-width="0.55" stroke-linejoin="round"/>
<polygon points="348.37,362.27 365.22,362.01 369.74,371.22 352.89,371.48" fill="#d20000" stroke="#000000" stroke-width="0.55" stroke-linejoin="round"/>
<polygon points="365.22,362.01 382.08,361.75 386.60,370.96 369.74,371.22" fill="#be0000" stroke="#000000" stroke-width="0.55" stroke-linejoin="round"/>
<polygon points="251.75,373.06 268.61,372.80 273.13,382.01 256.27,382.27" fill="#460000" stroke="#000000" stroke-width="0.55" stroke-linejoin="round"/>
<polygon points="268.61,372.80 285.47,372.54 289.99,381.75 273.13,382.01" fill="#780000" stroke="#000000" stroke-width="0.55" stroke-linejoin="round"/>
<polygon points="285.47,372.54 302.32,372.27 306.84,381.48 289.99,381.75" fill="#c80000" stroke="#000000" stroke-width="0.55" stroke-linejoin="round"/>
<polygon points="302.32,372.27 319.18,372.01 323.69,381.22 306.84,381.48" fill="#ff2800" stroke="#000000" stroke-width="0.55" stroke-linejoin="round"/>
<polygon points="319.18,372.01 336.03,371.75 340.55,380.96 323.69,381.22" fill="#ffaa00" stroke="#000000" stroke-width="0.55" stroke-linejoin="round"/>
<polygon points="336.03,371.75 352.89,371.48 357.41,380.69 340.55,380.96" fill="#ff4600" stroke="#000000" stroke-width="0.55" stroke-linejoin="round"/>
<polygon points="352.89,371.48 369.74,371.22 374.26,380.43 357.41,380.69" fill="#cd0000" stroke="#000000" stroke-width="0.55" stroke-linejoin="round"/>
<polygon points="369.74,371.22 386.60,370.96 391.12,380.17 374.26,380.43" fill="#820000" stroke="#000000" stroke-width="0.55" stroke-linejoin="round"/>
<polygon points="273.13,382.01 289.99,381.75 294.51,390.96 277.65,391.22" fill="#5a0000" stroke="#000000" stroke-width="0.55" stroke-linejoin="round"/>
<polygon points="289.99,381.75 306.84,381.48 311.36,390.69 294.51,390.96" fill="#b40000" stroke="#000000" stroke-width="0.55" stroke-linejoin="round"/>
<polygon points="306.84,381.48 323.69,381.22 328.22,390.43 311.36,390.69" fill="#f01400" stroke="#000000" stroke-width="0.55" stroke-linejoin="round"/>
<polygon points="323.69,381.22 340.55,380.96 345.07,390.17 328.22,390.43" fill="#ffb400" stroke="#000000" stroke-width="0.55" stroke-linejoin="round"/>
<polygon points="340.55,380.96 357.41,380.69 361.93,389.90 345.07,390.17" fill="#ff3c00" stroke="#000000" stroke-width="0.55" stroke-linejoin="round"/>
<polygon points="357.41,380.69 374.26,380.43 378.78,389.64 361.93,389.90" fill="#e10000" stroke="#000000" stroke-width="0.55" stroke-linejoin="round"/>
<polygon points="374.26,380.43 391.12,380.17 395.64,389.38 378.78,389.64" fill="#8c0000" stroke="#000000" stroke-width="0.55" stroke-linejoin="round"/>
<polygon points="294.51,390.96 311.36,390.69 315.88,399.90 299.03,400.17" fill="#820000" stroke="#000000" stroke-width="0.55" stroke-linejoin="round"/>
<polygon points="311.36,390.69 328.22,390.43 332.74,399.64 315.88,399.90" fill="#f00a00" stroke="#000000" stroke-width="0.55" stroke-linejoin="round"/>
<polygon points="328.22,390.43 345.07,390.17 349.59,399.38 332.74,399.64" fill="#ffaa00" stroke="#000000" stroke-width="0.55" stroke-linejoin="round"/>
<polygon points="345.07,390.17 361.93,389.90 366.45,399.11 349.59,399.38" fill="#ff5000" stroke="#000000" stroke-width="0.55" stroke-linejoin="round"/>
<polygon points="361.93,389.90 378.78,389.64 383.30,398.85 366.45,399.11" fill="#e10000" stroke="#000000" stroke-width="0.55" stroke-linejoin="round"/>
<polygon points="378.78,389.64 395.64,389.38 400.16,398.59 383.30,398.85" fill="#780000" stroke="#000000" stroke-width="0.55" stroke-linejoin="round"/>
<polygon points="299.03,400.17 315.88,399.90 320.40,409.11 303.55,409.38" fill="#6e0000" stroke="#000000" stroke-width="0.55" stroke-linejoin="round"/>
<polygon points="315.88,399.90 332.74,399.64 337.25,408.85 320.40,409.11" fill="#eb0a00" stroke="#000000" stroke-width="0.55" stroke-linejoin="round"/>
<polygon points="332.74,399.64 349.59,399.38 354.11,408.59 337.25,408.85" fill="#ffaa00" stroke="#000000" stroke-width="0.55" stroke-linejoin="round"/>
<polygon points="349.59,399.38 366.45,399.11 370.97,408.32 354.11,408.59" fill="#ff5a00" stroke="#000000" stroke-width="0.55" stroke-linejoin="round"/>
<polygon points="366.45,399.11 383.30,398.85 387.82,408.06 370.97,408.32" fill="#e60000" stroke="#000000" stroke-width="0.55" stroke-linejoin="round"/>
<polygon points="400.16,398.59 417.01,398.32 421.53,407.53 404.68,407.80" fill="#500000" stroke="#000000" stroke-width="0.55" stroke-linejoin="round"/>
<polygon points="417.01,398.32 433.87,398.06 438.38,407.27 421.53,407.53" fill="#5a0000" stroke="#000000" stroke-width="0.55" stroke-linejoin="round"/>
<line x1="605.95" y1="349.00" x2="605.95" y2="460.30" stroke="#262626" stroke-width="1.0"/>
<line x1="42.60" y1="376.30" x2="87.80" y2="468.40" stroke="#262626" stroke-width="1.0"/>
<line x1="87.80" y1="468.40" x2="605.95" y2="460.30" stroke="#262626" stroke-width="1.0"/>
<line x1="130.98" y1="467.73" x2="136.86" y2="479.70" stroke="#262626" stroke-width="1.0"/>
<line x1="184.95" y1="466.88" x2="190.83" y2="478.85" stroke="#262626" stroke-width="1.0"/>
<line x1="238.93" y1="466.04" x2="244.80" y2="478.01" stroke="#262626" stroke-width="1.0"/>
<line x1="292.90" y1="465.19" x2="298.78" y2="477.17" stroke="#262626" stroke-width="1.0"/>
<line x1="346.88" y1="464.35" x2="352.75" y2="476.32" stroke="#262626" stroke-width="1.0"/>
<line x1="400.85" y1="463.51" x2="406.72" y2="475.48" stroke="#262626" stroke-width="1.0"/>
<line x1="454.82" y1="462.66" x2="460.70" y2="474.64" stroke="#262626" stroke-width="1.0"/>
<line x1="508.80" y1="461.82" x2="514.67" y2="473.79" stroke="#262626" stroke-width="1.0"/>
<line x1="562.77" y1="460.98" x2="568.65" y2="472.95" stroke="#262626" stroke-width="1.0"/>
<line x1="42.60" y1="376.30" x2="29.65" y2="376.50" stroke="#262626" stroke-width="1.0"/>
<line x1="65.20" y1="422.35" x2="52.25" y2="422.55" stroke="#262626" stroke-width="1.0"/>
<line x1="87.80" y1="468.40" x2="74.85" y2="468.60" stroke="#262626" stroke-width="1.0"/>
<defs><linearGradient id="hot" x1="0" y1="1" x2="0" y2="0"><stop offset="0" stop-color="#000000"/><stop offset="0.365" stop-color="#ff0000"/><stop offset="0.746" stop-color="#ffff00"/><stop offset="1" stop-color="#ffffff"/></linearGradient></defs>
<rect x="610.2" y="4.3" width="37.2" height="527.0" fill="url(#hot)" stroke="#262626" stroke-width="1.1"/>
<line x1="641.90" y1="4.30" x2="647.40" y2="4.30" stroke="#262626" stroke-width="1.0"/>
<line x1="641.90" y1="61.70" x2="647.40" y2="61.70" stroke="#262626" stroke-width="1.0"/>
<line x1="641.90" y1="119.10" x2="647.40" y2="119.10" stroke="#262626" stroke-width="1.0"/>
<line x1="641.90" y1="176.50" x2="647.40" y2="176.50" stroke="#262626" stroke-width="1.0"/>
<line x1="641.90" y1="233.90" x2="647.40" y2="233.90" stroke="#262626" stroke-width="1.0"/>
<line x1="641.90" y1="291.30" x2="647.40" y2="291.30" stroke="#262626" stroke-width="1.0"/>
<line x1="641.90" y1="348.70" x2="647.40" y2="348.70" stroke="#262626" stroke-width="1.0"/>
<line x1="641.90" y1="406.10" x2="647.40" y2="406.10" stroke="#262626" stroke-width="1.0"/>
<line x1="641.90" y1="463.50" x2="647.40" y2="463.50" stroke="#262626" stroke-width="1.0"/>
<line x1="641.90" y1="520.90" x2="647.40" y2="520.90" stroke="#262626" stroke-width="1.0"/>
</svg>
<svg width="685" height="546" viewBox="0 0 685 546" style="position:absolute;left:0;top:0;filter:grayscale(1)" fill="#262626"><text x="139.8" y="254.2" font-family="Liberation Sans" font-size="20">-200</text>
<text x="139.8" y="507.0" font-family="Liberation Sans" font-size="20">-200</text>
<text x="193.9" y="253.4" font-family="Liberation Sans" font-size="20">-150</text>
<text x="193.9" y="506.2" font-family="Liberation Sans" font-size="20">-150</text>
<text x="247.9" y="252.5" font-family="Liberation Sans" font-size="20">-100</text>
<text x="247.9" y="505.3" font-family="Liberation Sans" font-size="20">-100</text>
<text x="301.3" y="251.7" font-family="Liberation Sans" font-size="20">-50</text>
<text x="301.3" y="504.5" font-family="Liberation Sans" font-size="20">-50</text>
<text x="355.0" y="251.0" font-family="Liberation Sans" font-size="20">0</text>
<text x="355.0" y="503.8" font-family="Liberation Sans" font-size="20">0</text>
<text x="408.8" y="250.1" font-family="Liberation Sans" font-size="20">50</text>
<text x="408.8" y="502.9" font-family="Liberation Sans" font-size="20">50</text>
<text x="462.8" y="249.2" font-family="Liberation Sans" font-size="20">100</text>
<text x="462.8" y="502.0" font-family="Liberation Sans" font-size="20">100</text>
<text x="516.9" y="248.3" font-family="Liberation Sans" font-size="20">150</text>
<text x="516.9" y="501.1" font-family="Liberation Sans" font-size="20">150</text>
<text x="570.5" y="247.5" font-family="Liberation Sans" font-size="20">200</text>
<text x="570.5" y="500.3" font-family="Liberation Sans" font-size="20">200</text>
<text x="12.1" y="145.5" font-family="Liberation Sans" font-size="20">0</text>
<text x="12.1" y="398.3" font-family="Liberation Sans" font-size="20">0</text>
<text x="18.8" y="191.6" font-family="Liberation Sans" font-size="20">0.5</text>
<text x="18.8" y="444.4" font-family="Liberation Sans" font-size="20">0.5</text>
<text x="57.5" y="237.6" font-family="Liberation Sans" font-size="20">1</text>
<text x="57.5" y="490.4" font-family="Liberation Sans" font-size="20">1</text>
<text x="8.1" y="213.0" font-family="Liberation Serif" font-size="22" font-style="italic">&#951;</text>
<text x="10.8" y="468.0" font-family="Liberation Serif" font-size="22" font-style="italic">&#951;</text>
<text x="21.5" y="256.6" font-family="Liberation Sans" font-size="20">1</text>
<text x="7.5" y="283.8" font-family="Liberation Sans" font-size="20">0.5</text>
<text x="23.7" y="311.2" font-family="Liberation Sans" font-size="20">0</text>
<text x="-1.4" y="49.9" font-family="Liberation Sans" font-size="20">10</text>
<text x="20.9" y="40.8" font-family="Liberation Sans" font-size="15.5">-2</text>
<text x="-1.4" y="101.6" font-family="Liberation Sans" font-size="20">10</text>
<text x="20.9" y="92.6" font-family="Liberation Sans" font-size="15.5">-4</text>
<text x="654.5" y="12.7" font-family="Liberation Sans" font-size="18">0</text>
<text x="654.5" y="70.1" font-family="Liberation Sans" font-size="18">-0.5</text>
<text x="654.5" y="127.5" font-family="Liberation Sans" font-size="18">-1</text>
<text x="654.5" y="184.9" font-family="Liberation Sans" font-size="18">-1.5</text>
<text x="654.5" y="242.3" font-family="Liberation Sans" font-size="18">-2</text>
<text x="654.5" y="299.7" font-family="Liberation Sans" font-size="18">-2.5</text>
<text x="654.5" y="357.1" font-family="Liberation Sans" font-size="18">-3</text>
<text x="654.5" y="414.5" font-family="Liberation Sans" font-size="18">-3.5</text>
<text x="654.5" y="471.9" font-family="Liberation Sans" font-size="18">-4</text>
<text x="654.5" y="529.3" font-family="Liberation Sans" font-size="18">-4.5</text>
<text x="268.5" y="534.6" font-family="Liberation Sans" font-size="22">V</text>
<text x="282.0" y="544.4" font-family="Liberation Sans" font-size="16.5">ZZ</text>
<text x="311.3" y="534.6" font-family="Liberation Sans" font-size="22">(10</text>
<text x="341.1" y="523.2" font-family="Liberation Sans" font-size="15.5">21</text>
<text x="370.2" y="534.6" font-family="Liberation Sans" font-size="22">V/m</text>
<text x="409.0" y="524.1" font-family="Liberation Sans" font-size="15.5">2</text>
<text x="419.6" y="534.6" font-family="Liberation Sans" font-size="22">)</text></svg>
</body></html>
